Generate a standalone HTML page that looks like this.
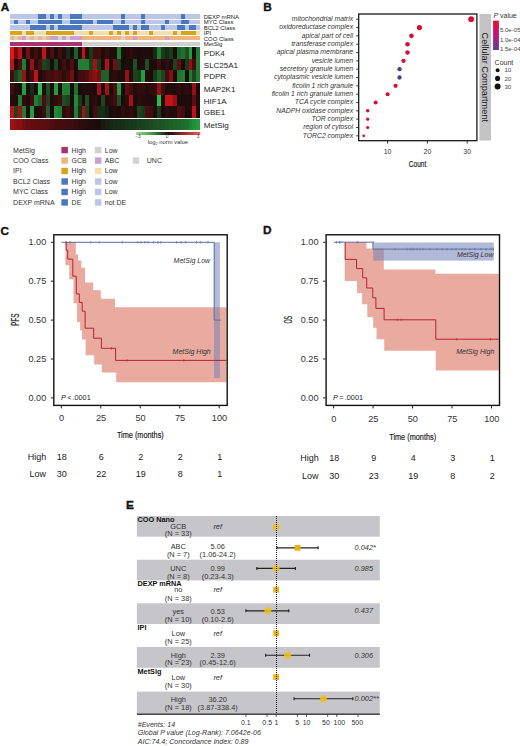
<!DOCTYPE html>
<html><head><meta charset="utf-8"><title>Figure</title><style>html,body{margin:0;padding:0;background:#fff;}body{width:520px;height:746px;overflow:hidden;}svg{display:block;font-family:"Liberation Sans",sans-serif;}</style></head><body>
<svg width="520" height="746" viewBox="0 0 520 746">
<rect width="520" height="746" fill="#fff"/>
<text x="0.8" y="11.1" font-size="11.8" font-weight="bold" fill="#111" stroke="#111" stroke-width="0.35">A</text>
<text x="263.3" y="11.1" font-size="11.8" font-weight="bold" fill="#111" stroke="#111" stroke-width="0.35">B</text>
<text x="0.6" y="234.6" font-size="11.8" font-weight="bold" fill="#111" stroke="#111" stroke-width="0.35">C</text>
<text x="263.1" y="234.3" font-size="11.8" font-weight="bold" fill="#111" stroke="#111" stroke-width="0.35">D</text>
<text x="126" y="508.8" font-size="11.8" font-weight="bold" fill="#111" stroke="#111" stroke-width="0.35">E</text>
<g shape-rendering="crispEdges">
<rect x="10.2" y="14.4" width="4.01" height="4.1" fill="#bcc6e6"/>
<rect x="14.16" y="14.4" width="4.01" height="4.1" fill="#bcc6e6"/>
<rect x="18.12" y="14.4" width="4.01" height="4.1" fill="#bcc6e6"/>
<rect x="22.09" y="14.4" width="4.01" height="4.1" fill="#bcc6e6"/>
<rect x="26.05" y="14.4" width="4.01" height="4.1" fill="#bcc6e6"/>
<rect x="30.01" y="14.4" width="4.01" height="4.1" fill="#bcc6e6"/>
<rect x="33.98" y="14.4" width="4.01" height="4.1" fill="#bcc6e6"/>
<rect x="37.94" y="14.4" width="4.01" height="4.1" fill="#4a78c0"/>
<rect x="41.9" y="14.4" width="4.01" height="4.1" fill="#4a78c0"/>
<rect x="45.86" y="14.4" width="4.01" height="4.1" fill="#bcc6e6"/>
<rect x="49.83" y="14.4" width="4.01" height="4.1" fill="#4a78c0"/>
<rect x="53.79" y="14.4" width="4.01" height="4.1" fill="#bcc6e6"/>
<rect x="57.75" y="14.4" width="4.01" height="4.1" fill="#4a78c0"/>
<rect x="61.71" y="14.4" width="4.01" height="4.1" fill="#bcc6e6"/>
<rect x="65.68" y="14.4" width="4.01" height="4.1" fill="#bcc6e6"/>
<rect x="69.64" y="14.4" width="4.01" height="4.1" fill="#4a78c0"/>
<rect x="73.6" y="14.4" width="4.01" height="4.1" fill="#4a78c0"/>
<rect x="77.56" y="14.4" width="4.01" height="4.1" fill="#4a78c0"/>
<rect x="81.53" y="14.4" width="4.01" height="4.1" fill="#bcc6e6"/>
<rect x="85.49" y="14.4" width="4.01" height="4.1" fill="#bcc6e6"/>
<rect x="89.45" y="14.4" width="4.01" height="4.1" fill="#bcc6e6"/>
<rect x="93.41" y="14.4" width="4.01" height="4.1" fill="#bcc6e6"/>
<rect x="97.38" y="14.4" width="4.01" height="4.1" fill="#bcc6e6"/>
<rect x="101.34" y="14.4" width="4.01" height="4.1" fill="#bcc6e6"/>
<rect x="105.3" y="14.4" width="4.01" height="4.1" fill="#bcc6e6"/>
<rect x="109.26" y="14.4" width="4.01" height="4.1" fill="#bcc6e6"/>
<rect x="113.23" y="14.4" width="4.01" height="4.1" fill="#bcc6e6"/>
<rect x="117.19" y="14.4" width="4.01" height="4.1" fill="#bcc6e6"/>
<rect x="121.15" y="14.4" width="4.01" height="4.1" fill="#4a78c0"/>
<rect x="125.11" y="14.4" width="4.01" height="4.1" fill="#bcc6e6"/>
<rect x="129.08" y="14.4" width="4.01" height="4.1" fill="#bcc6e6"/>
<rect x="133.04" y="14.4" width="4.01" height="4.1" fill="#bcc6e6"/>
<rect x="137" y="14.4" width="4.01" height="4.1" fill="#bcc6e6"/>
<rect x="140.96" y="14.4" width="4.01" height="4.1" fill="#4a78c0"/>
<rect x="144.93" y="14.4" width="4.01" height="4.1" fill="#bcc6e6"/>
<rect x="148.89" y="14.4" width="4.01" height="4.1" fill="#bcc6e6"/>
<rect x="152.85" y="14.4" width="4.01" height="4.1" fill="#bcc6e6"/>
<rect x="156.81" y="14.4" width="4.01" height="4.1" fill="#bcc6e6"/>
<rect x="160.78" y="14.4" width="4.01" height="4.1" fill="#bcc6e6"/>
<rect x="164.74" y="14.4" width="4.01" height="4.1" fill="#bcc6e6"/>
<rect x="168.7" y="14.4" width="4.01" height="4.1" fill="#bcc6e6"/>
<rect x="172.66" y="14.4" width="4.01" height="4.1" fill="#bcc6e6"/>
<rect x="176.62" y="14.4" width="4.01" height="4.1" fill="#bcc6e6"/>
<rect x="180.59" y="14.4" width="4.01" height="4.1" fill="#4a78c0"/>
<rect x="184.55" y="14.4" width="4.01" height="4.1" fill="#bcc6e6"/>
<rect x="188.51" y="14.4" width="4.01" height="4.1" fill="#bcc6e6"/>
<rect x="192.47" y="14.4" width="4.01" height="4.1" fill="#bcc6e6"/>
<rect x="196.44" y="14.4" width="4.01" height="4.1" fill="#bcc6e6"/>
<rect x="10.2" y="19.9" width="4.01" height="4.1" fill="#bcc6e6"/>
<rect x="14.16" y="19.9" width="4.01" height="4.1" fill="#4a78c0"/>
<rect x="18.12" y="19.9" width="4.01" height="4.1" fill="#bcc6e6"/>
<rect x="22.09" y="19.9" width="4.01" height="4.1" fill="#bcc6e6"/>
<rect x="26.05" y="19.9" width="4.01" height="4.1" fill="#4a78c0"/>
<rect x="30.01" y="19.9" width="4.01" height="4.1" fill="#bcc6e6"/>
<rect x="33.98" y="19.9" width="4.01" height="4.1" fill="#bcc6e6"/>
<rect x="37.94" y="19.9" width="4.01" height="4.1" fill="#4a78c0"/>
<rect x="41.9" y="19.9" width="4.01" height="4.1" fill="#4a78c0"/>
<rect x="45.86" y="19.9" width="4.01" height="4.1" fill="#4a78c0"/>
<rect x="49.83" y="19.9" width="4.01" height="4.1" fill="#4a78c0"/>
<rect x="53.79" y="19.9" width="4.01" height="4.1" fill="#4a78c0"/>
<rect x="57.75" y="19.9" width="4.01" height="4.1" fill="#4a78c0"/>
<rect x="61.71" y="19.9" width="4.01" height="4.1" fill="#bcc6e6"/>
<rect x="65.68" y="19.9" width="4.01" height="4.1" fill="#bcc6e6"/>
<rect x="69.64" y="19.9" width="4.01" height="4.1" fill="#4a78c0"/>
<rect x="73.6" y="19.9" width="4.01" height="4.1" fill="#4a78c0"/>
<rect x="77.56" y="19.9" width="4.01" height="4.1" fill="#4a78c0"/>
<rect x="81.53" y="19.9" width="4.01" height="4.1" fill="#4a78c0"/>
<rect x="85.49" y="19.9" width="4.01" height="4.1" fill="#4a78c0"/>
<rect x="89.45" y="19.9" width="4.01" height="4.1" fill="#4a78c0"/>
<rect x="93.41" y="19.9" width="4.01" height="4.1" fill="#bcc6e6"/>
<rect x="97.38" y="19.9" width="4.01" height="4.1" fill="#4a78c0"/>
<rect x="101.34" y="19.9" width="4.01" height="4.1" fill="#4a78c0"/>
<rect x="105.3" y="19.9" width="4.01" height="4.1" fill="#4a78c0"/>
<rect x="109.26" y="19.9" width="4.01" height="4.1" fill="#4a78c0"/>
<rect x="113.23" y="19.9" width="4.01" height="4.1" fill="#bcc6e6"/>
<rect x="117.19" y="19.9" width="4.01" height="4.1" fill="#bcc6e6"/>
<rect x="121.15" y="19.9" width="4.01" height="4.1" fill="#4a78c0"/>
<rect x="125.11" y="19.9" width="4.01" height="4.1" fill="#bcc6e6"/>
<rect x="129.08" y="19.9" width="4.01" height="4.1" fill="#bcc6e6"/>
<rect x="133.04" y="19.9" width="4.01" height="4.1" fill="#bcc6e6"/>
<rect x="137" y="19.9" width="4.01" height="4.1" fill="#bcc6e6"/>
<rect x="140.96" y="19.9" width="4.01" height="4.1" fill="#4a78c0"/>
<rect x="144.93" y="19.9" width="4.01" height="4.1" fill="#bcc6e6"/>
<rect x="148.89" y="19.9" width="4.01" height="4.1" fill="#bcc6e6"/>
<rect x="152.85" y="19.9" width="4.01" height="4.1" fill="#bcc6e6"/>
<rect x="156.81" y="19.9" width="4.01" height="4.1" fill="#bcc6e6"/>
<rect x="160.78" y="19.9" width="4.01" height="4.1" fill="#bcc6e6"/>
<rect x="164.74" y="19.9" width="4.01" height="4.1" fill="#4a78c0"/>
<rect x="168.7" y="19.9" width="4.01" height="4.1" fill="#bcc6e6"/>
<rect x="172.66" y="19.9" width="4.01" height="4.1" fill="#bcc6e6"/>
<rect x="176.62" y="19.9" width="4.01" height="4.1" fill="#bcc6e6"/>
<rect x="180.59" y="19.9" width="4.01" height="4.1" fill="#4a78c0"/>
<rect x="184.55" y="19.9" width="4.01" height="4.1" fill="#4a78c0"/>
<rect x="188.51" y="19.9" width="4.01" height="4.1" fill="#bcc6e6"/>
<rect x="192.47" y="19.9" width="4.01" height="4.1" fill="#bcc6e6"/>
<rect x="196.44" y="19.9" width="4.01" height="4.1" fill="#bcc6e6"/>
<rect x="10.2" y="25.4" width="4.01" height="4.1" fill="#bcc6e6"/>
<rect x="14.16" y="25.4" width="4.01" height="4.1" fill="#bcc6e6"/>
<rect x="18.12" y="25.4" width="4.01" height="4.1" fill="#bcc6e6"/>
<rect x="22.09" y="25.4" width="4.01" height="4.1" fill="#bcc6e6"/>
<rect x="26.05" y="25.4" width="4.01" height="4.1" fill="#bcc6e6"/>
<rect x="30.01" y="25.4" width="4.01" height="4.1" fill="#4a78c0"/>
<rect x="33.98" y="25.4" width="4.01" height="4.1" fill="#4a78c0"/>
<rect x="37.94" y="25.4" width="4.01" height="4.1" fill="#4a78c0"/>
<rect x="41.9" y="25.4" width="4.01" height="4.1" fill="#4a78c0"/>
<rect x="45.86" y="25.4" width="4.01" height="4.1" fill="#bcc6e6"/>
<rect x="49.83" y="25.4" width="4.01" height="4.1" fill="#4a78c0"/>
<rect x="53.79" y="25.4" width="4.01" height="4.1" fill="#bcc6e6"/>
<rect x="57.75" y="25.4" width="4.01" height="4.1" fill="#4a78c0"/>
<rect x="61.71" y="25.4" width="4.01" height="4.1" fill="#4a78c0"/>
<rect x="65.68" y="25.4" width="4.01" height="4.1" fill="#4a78c0"/>
<rect x="69.64" y="25.4" width="4.01" height="4.1" fill="#4a78c0"/>
<rect x="73.6" y="25.4" width="4.01" height="4.1" fill="#4a78c0"/>
<rect x="77.56" y="25.4" width="4.01" height="4.1" fill="#4a78c0"/>
<rect x="81.53" y="25.4" width="4.01" height="4.1" fill="#bcc6e6"/>
<rect x="85.49" y="25.4" width="4.01" height="4.1" fill="#bcc6e6"/>
<rect x="89.45" y="25.4" width="4.01" height="4.1" fill="#bcc6e6"/>
<rect x="93.41" y="25.4" width="4.01" height="4.1" fill="#bcc6e6"/>
<rect x="97.38" y="25.4" width="4.01" height="4.1" fill="#bcc6e6"/>
<rect x="101.34" y="25.4" width="4.01" height="4.1" fill="#bcc6e6"/>
<rect x="105.3" y="25.4" width="4.01" height="4.1" fill="#bcc6e6"/>
<rect x="109.26" y="25.4" width="4.01" height="4.1" fill="#bcc6e6"/>
<rect x="113.23" y="25.4" width="4.01" height="4.1" fill="#4a78c0"/>
<rect x="117.19" y="25.4" width="4.01" height="4.1" fill="#4a78c0"/>
<rect x="121.15" y="25.4" width="4.01" height="4.1" fill="#4a78c0"/>
<rect x="125.11" y="25.4" width="4.01" height="4.1" fill="#4a78c0"/>
<rect x="129.08" y="25.4" width="4.01" height="4.1" fill="#bcc6e6"/>
<rect x="133.04" y="25.4" width="4.01" height="4.1" fill="#4a78c0"/>
<rect x="137" y="25.4" width="4.01" height="4.1" fill="#bcc6e6"/>
<rect x="140.96" y="25.4" width="4.01" height="4.1" fill="#4a78c0"/>
<rect x="144.93" y="25.4" width="4.01" height="4.1" fill="#4a78c0"/>
<rect x="148.89" y="25.4" width="4.01" height="4.1" fill="#bcc6e6"/>
<rect x="152.85" y="25.4" width="4.01" height="4.1" fill="#bcc6e6"/>
<rect x="156.81" y="25.4" width="4.01" height="4.1" fill="#bcc6e6"/>
<rect x="160.78" y="25.4" width="4.01" height="4.1" fill="#4a78c0"/>
<rect x="164.74" y="25.4" width="4.01" height="4.1" fill="#bcc6e6"/>
<rect x="168.7" y="25.4" width="4.01" height="4.1" fill="#bcc6e6"/>
<rect x="172.66" y="25.4" width="4.01" height="4.1" fill="#bcc6e6"/>
<rect x="176.62" y="25.4" width="4.01" height="4.1" fill="#4a78c0"/>
<rect x="180.59" y="25.4" width="4.01" height="4.1" fill="#4a78c0"/>
<rect x="184.55" y="25.4" width="4.01" height="4.1" fill="#bcc6e6"/>
<rect x="188.51" y="25.4" width="4.01" height="4.1" fill="#4a78c0"/>
<rect x="192.47" y="25.4" width="4.01" height="4.1" fill="#4a78c0"/>
<rect x="196.44" y="25.4" width="4.01" height="4.1" fill="#bcc6e6"/>
<rect x="10.2" y="30.9" width="4.01" height="4" fill="#d9a418"/>
<rect x="14.16" y="30.9" width="4.01" height="4" fill="#d9a418"/>
<rect x="18.12" y="30.9" width="4.01" height="4" fill="#d9a418"/>
<rect x="22.09" y="30.9" width="4.01" height="4" fill="#f6dfae"/>
<rect x="26.05" y="30.9" width="4.01" height="4" fill="#d9a418"/>
<rect x="30.01" y="30.9" width="4.01" height="4" fill="#d9a418"/>
<rect x="33.98" y="30.9" width="4.01" height="4" fill="#f6dfae"/>
<rect x="37.94" y="30.9" width="4.01" height="4" fill="#f6dfae"/>
<rect x="41.9" y="30.9" width="4.01" height="4" fill="#f6dfae"/>
<rect x="45.86" y="30.9" width="4.01" height="4" fill="#d9a418"/>
<rect x="49.83" y="30.9" width="4.01" height="4" fill="#d9a418"/>
<rect x="53.79" y="30.9" width="4.01" height="4" fill="#d9a418"/>
<rect x="57.75" y="30.9" width="4.01" height="4" fill="#d9a418"/>
<rect x="61.71" y="30.9" width="4.01" height="4" fill="#d9a418"/>
<rect x="65.68" y="30.9" width="4.01" height="4" fill="#d9a418"/>
<rect x="69.64" y="30.9" width="4.01" height="4" fill="#d9a418"/>
<rect x="73.6" y="30.9" width="4.01" height="4" fill="#f6dfae"/>
<rect x="77.56" y="30.9" width="4.01" height="4" fill="#f6dfae"/>
<rect x="81.53" y="30.9" width="4.01" height="4" fill="#f6dfae"/>
<rect x="85.49" y="30.9" width="4.01" height="4" fill="#f6dfae"/>
<rect x="89.45" y="30.9" width="4.01" height="4" fill="#d9a418"/>
<rect x="93.41" y="30.9" width="4.01" height="4" fill="#f6dfae"/>
<rect x="97.38" y="30.9" width="4.01" height="4" fill="#f6dfae"/>
<rect x="101.34" y="30.9" width="4.01" height="4" fill="#f6dfae"/>
<rect x="105.3" y="30.9" width="4.01" height="4" fill="#f6dfae"/>
<rect x="109.26" y="30.9" width="4.01" height="4" fill="#d9a418"/>
<rect x="113.23" y="30.9" width="4.01" height="4" fill="#f6dfae"/>
<rect x="117.19" y="30.9" width="4.01" height="4" fill="#d9a418"/>
<rect x="121.15" y="30.9" width="4.01" height="4" fill="#f6dfae"/>
<rect x="125.11" y="30.9" width="4.01" height="4" fill="#d9a418"/>
<rect x="129.08" y="30.9" width="4.01" height="4" fill="#f6dfae"/>
<rect x="133.04" y="30.9" width="4.01" height="4" fill="#d9a418"/>
<rect x="137" y="30.9" width="4.01" height="4" fill="#f6dfae"/>
<rect x="140.96" y="30.9" width="4.01" height="4" fill="#f6dfae"/>
<rect x="144.93" y="30.9" width="4.01" height="4" fill="#f6dfae"/>
<rect x="148.89" y="30.9" width="4.01" height="4" fill="#d9a418"/>
<rect x="152.85" y="30.9" width="4.01" height="4" fill="#f6dfae"/>
<rect x="156.81" y="30.9" width="4.01" height="4" fill="#f6dfae"/>
<rect x="160.78" y="30.9" width="4.01" height="4" fill="#f6dfae"/>
<rect x="164.74" y="30.9" width="4.01" height="4" fill="#f6dfae"/>
<rect x="168.7" y="30.9" width="4.01" height="4" fill="#f6dfae"/>
<rect x="172.66" y="30.9" width="4.01" height="4" fill="#d9a418"/>
<rect x="176.62" y="30.9" width="4.01" height="4" fill="#f6dfae"/>
<rect x="180.59" y="30.9" width="4.01" height="4" fill="#d9a418"/>
<rect x="184.55" y="30.9" width="4.01" height="4" fill="#d9a418"/>
<rect x="188.51" y="30.9" width="4.01" height="4" fill="#d9a418"/>
<rect x="192.47" y="30.9" width="4.01" height="4" fill="#d9a418"/>
<rect x="196.44" y="30.9" width="4.01" height="4" fill="#f6dfae"/>
<rect x="10.2" y="36.2" width="4.01" height="3.9" fill="#f2b47e"/>
<rect x="14.16" y="36.2" width="4.01" height="3.9" fill="#d2d2d2"/>
<rect x="18.12" y="36.2" width="4.01" height="3.9" fill="#f2b47e"/>
<rect x="22.09" y="36.2" width="4.01" height="3.9" fill="#c8a0d4"/>
<rect x="26.05" y="36.2" width="4.01" height="3.9" fill="#d2d2d2"/>
<rect x="30.01" y="36.2" width="4.01" height="3.9" fill="#f2b47e"/>
<rect x="33.98" y="36.2" width="4.01" height="3.9" fill="#d2d2d2"/>
<rect x="37.94" y="36.2" width="4.01" height="3.9" fill="#f2b47e"/>
<rect x="41.9" y="36.2" width="4.01" height="3.9" fill="#d2d2d2"/>
<rect x="45.86" y="36.2" width="4.01" height="3.9" fill="#f2b47e"/>
<rect x="49.83" y="36.2" width="4.01" height="3.9" fill="#c8a0d4"/>
<rect x="53.79" y="36.2" width="4.01" height="3.9" fill="#c8a0d4"/>
<rect x="57.75" y="36.2" width="4.01" height="3.9" fill="#d2d2d2"/>
<rect x="61.71" y="36.2" width="4.01" height="3.9" fill="#c8a0d4"/>
<rect x="65.68" y="36.2" width="4.01" height="3.9" fill="#d2d2d2"/>
<rect x="69.64" y="36.2" width="4.01" height="3.9" fill="#c8a0d4"/>
<rect x="73.6" y="36.2" width="4.01" height="3.9" fill="#c8a0d4"/>
<rect x="77.56" y="36.2" width="4.01" height="3.9" fill="#c8a0d4"/>
<rect x="81.53" y="36.2" width="4.01" height="3.9" fill="#f2b47e"/>
<rect x="85.49" y="36.2" width="4.01" height="3.9" fill="#f2b47e"/>
<rect x="89.45" y="36.2" width="4.01" height="3.9" fill="#f2b47e"/>
<rect x="93.41" y="36.2" width="4.01" height="3.9" fill="#f2b47e"/>
<rect x="97.38" y="36.2" width="4.01" height="3.9" fill="#f2b47e"/>
<rect x="101.34" y="36.2" width="4.01" height="3.9" fill="#f2b47e"/>
<rect x="105.3" y="36.2" width="4.01" height="3.9" fill="#f2b47e"/>
<rect x="109.26" y="36.2" width="4.01" height="3.9" fill="#f2b47e"/>
<rect x="113.23" y="36.2" width="4.01" height="3.9" fill="#f2b47e"/>
<rect x="117.19" y="36.2" width="4.01" height="3.9" fill="#f2b47e"/>
<rect x="121.15" y="36.2" width="4.01" height="3.9" fill="#d2d2d2"/>
<rect x="125.11" y="36.2" width="4.01" height="3.9" fill="#f2b47e"/>
<rect x="129.08" y="36.2" width="4.01" height="3.9" fill="#f2b47e"/>
<rect x="133.04" y="36.2" width="4.01" height="3.9" fill="#c8a0d4"/>
<rect x="137" y="36.2" width="4.01" height="3.9" fill="#f2b47e"/>
<rect x="140.96" y="36.2" width="4.01" height="3.9" fill="#f2b47e"/>
<rect x="144.93" y="36.2" width="4.01" height="3.9" fill="#f2b47e"/>
<rect x="148.89" y="36.2" width="4.01" height="3.9" fill="#f2b47e"/>
<rect x="152.85" y="36.2" width="4.01" height="3.9" fill="#f2b47e"/>
<rect x="156.81" y="36.2" width="4.01" height="3.9" fill="#f2b47e"/>
<rect x="160.78" y="36.2" width="4.01" height="3.9" fill="#f2b47e"/>
<rect x="164.74" y="36.2" width="4.01" height="3.9" fill="#c8a0d4"/>
<rect x="168.7" y="36.2" width="4.01" height="3.9" fill="#f2b47e"/>
<rect x="172.66" y="36.2" width="4.01" height="3.9" fill="#f2b47e"/>
<rect x="176.62" y="36.2" width="4.01" height="3.9" fill="#f2b47e"/>
<rect x="180.59" y="36.2" width="4.01" height="3.9" fill="#f2b47e"/>
<rect x="184.55" y="36.2" width="4.01" height="3.9" fill="#f2b47e"/>
<rect x="188.51" y="36.2" width="4.01" height="3.9" fill="#f2b47e"/>
<rect x="192.47" y="36.2" width="4.01" height="3.9" fill="#f2b47e"/>
<rect x="196.44" y="36.2" width="4.01" height="3.9" fill="#f2b47e"/>
<rect x="10.2" y="41.7" width="4.01" height="3.9" fill="#a8336f"/>
<rect x="14.16" y="41.7" width="4.01" height="3.9" fill="#a8336f"/>
<rect x="18.12" y="41.7" width="4.01" height="3.9" fill="#a8336f"/>
<rect x="22.09" y="41.7" width="4.01" height="3.9" fill="#a8336f"/>
<rect x="26.05" y="41.7" width="4.01" height="3.9" fill="#a8336f"/>
<rect x="30.01" y="41.7" width="4.01" height="3.9" fill="#a8336f"/>
<rect x="33.98" y="41.7" width="4.01" height="3.9" fill="#a8336f"/>
<rect x="37.94" y="41.7" width="4.01" height="3.9" fill="#a8336f"/>
<rect x="41.9" y="41.7" width="4.01" height="3.9" fill="#a8336f"/>
<rect x="45.86" y="41.7" width="4.01" height="3.9" fill="#a8336f"/>
<rect x="49.83" y="41.7" width="4.01" height="3.9" fill="#a8336f"/>
<rect x="53.79" y="41.7" width="4.01" height="3.9" fill="#a8336f"/>
<rect x="57.75" y="41.7" width="4.01" height="3.9" fill="#a8336f"/>
<rect x="61.71" y="41.7" width="4.01" height="3.9" fill="#a8336f"/>
<rect x="65.68" y="41.7" width="4.01" height="3.9" fill="#a8336f"/>
<rect x="69.64" y="41.7" width="4.01" height="3.9" fill="#a8336f"/>
<rect x="73.6" y="41.7" width="4.01" height="3.9" fill="#a8336f"/>
<rect x="77.56" y="41.7" width="4.01" height="3.9" fill="#a8336f"/>
<rect x="81.53" y="41.7" width="4.01" height="3.9" fill="#d0d0d0"/>
<rect x="85.49" y="41.7" width="4.01" height="3.9" fill="#d0d0d0"/>
<rect x="89.45" y="41.7" width="4.01" height="3.9" fill="#d0d0d0"/>
<rect x="93.41" y="41.7" width="4.01" height="3.9" fill="#d0d0d0"/>
<rect x="97.38" y="41.7" width="4.01" height="3.9" fill="#d0d0d0"/>
<rect x="101.34" y="41.7" width="4.01" height="3.9" fill="#d0d0d0"/>
<rect x="105.3" y="41.7" width="4.01" height="3.9" fill="#d0d0d0"/>
<rect x="109.26" y="41.7" width="4.01" height="3.9" fill="#d0d0d0"/>
<rect x="113.23" y="41.7" width="4.01" height="3.9" fill="#d0d0d0"/>
<rect x="117.19" y="41.7" width="4.01" height="3.9" fill="#d0d0d0"/>
<rect x="121.15" y="41.7" width="4.01" height="3.9" fill="#d0d0d0"/>
<rect x="125.11" y="41.7" width="4.01" height="3.9" fill="#d0d0d0"/>
<rect x="129.08" y="41.7" width="4.01" height="3.9" fill="#d0d0d0"/>
<rect x="133.04" y="41.7" width="4.01" height="3.9" fill="#d0d0d0"/>
<rect x="137" y="41.7" width="4.01" height="3.9" fill="#d0d0d0"/>
<rect x="140.96" y="41.7" width="4.01" height="3.9" fill="#d0d0d0"/>
<rect x="144.93" y="41.7" width="4.01" height="3.9" fill="#d0d0d0"/>
<rect x="148.89" y="41.7" width="4.01" height="3.9" fill="#d0d0d0"/>
<rect x="152.85" y="41.7" width="4.01" height="3.9" fill="#d0d0d0"/>
<rect x="156.81" y="41.7" width="4.01" height="3.9" fill="#d0d0d0"/>
<rect x="160.78" y="41.7" width="4.01" height="3.9" fill="#d0d0d0"/>
<rect x="164.74" y="41.7" width="4.01" height="3.9" fill="#d0d0d0"/>
<rect x="168.7" y="41.7" width="4.01" height="3.9" fill="#d0d0d0"/>
<rect x="172.66" y="41.7" width="4.01" height="3.9" fill="#d0d0d0"/>
<rect x="176.62" y="41.7" width="4.01" height="3.9" fill="#d0d0d0"/>
<rect x="180.59" y="41.7" width="4.01" height="3.9" fill="#d0d0d0"/>
<rect x="184.55" y="41.7" width="4.01" height="3.9" fill="#d0d0d0"/>
<rect x="188.51" y="41.7" width="4.01" height="3.9" fill="#d0d0d0"/>
<rect x="192.47" y="41.7" width="4.01" height="3.9" fill="#d0d0d0"/>
<rect x="196.44" y="41.7" width="4.01" height="3.9" fill="#d0d0d0"/>
<rect x="10.2" y="47.3" width="4.01" height="11.6" fill="#eb141a"/>
<rect x="14.16" y="47.3" width="4.01" height="11.6" fill="#710f11"/>
<rect x="18.12" y="47.3" width="4.01" height="11.6" fill="#c01217"/>
<rect x="22.09" y="47.3" width="4.01" height="11.6" fill="#1a0c0c"/>
<rect x="26.05" y="47.3" width="4.01" height="11.6" fill="#710f11"/>
<rect x="30.01" y="47.3" width="4.01" height="11.6" fill="#250c0c"/>
<rect x="33.98" y="47.3" width="4.01" height="11.6" fill="#420d0e"/>
<rect x="37.94" y="47.3" width="4.01" height="11.6" fill="#250c0c"/>
<rect x="41.9" y="47.3" width="4.01" height="11.6" fill="#c01217"/>
<rect x="45.86" y="47.3" width="4.01" height="11.6" fill="#250c0c"/>
<rect x="49.83" y="47.3" width="4.01" height="11.6" fill="#4e0e0f"/>
<rect x="53.79" y="47.3" width="4.01" height="11.6" fill="#1a0c0c"/>
<rect x="57.75" y="47.3" width="4.01" height="11.6" fill="#420d0e"/>
<rect x="61.71" y="47.3" width="4.01" height="11.6" fill="#250c0c"/>
<rect x="65.68" y="47.3" width="4.01" height="11.6" fill="#182b17"/>
<rect x="69.64" y="47.3" width="4.01" height="11.6" fill="#1a0c0c"/>
<rect x="73.6" y="47.3" width="4.01" height="11.6" fill="#1e6029"/>
<rect x="77.56" y="47.3" width="4.01" height="11.6" fill="#1a0c0c"/>
<rect x="81.53" y="47.3" width="4.01" height="11.6" fill="#c01217"/>
<rect x="85.49" y="47.3" width="4.01" height="11.6" fill="#250c0c"/>
<rect x="89.45" y="47.3" width="4.01" height="11.6" fill="#193a1c"/>
<rect x="93.41" y="47.3" width="4.01" height="11.6" fill="#420d0e"/>
<rect x="97.38" y="47.3" width="4.01" height="11.6" fill="#420d0e"/>
<rect x="101.34" y="47.3" width="4.01" height="11.6" fill="#210c0c"/>
<rect x="105.3" y="47.3" width="4.01" height="11.6" fill="#350d0d"/>
<rect x="109.26" y="47.3" width="4.01" height="11.6" fill="#210c0c"/>
<rect x="113.23" y="47.3" width="4.01" height="11.6" fill="#210c0c"/>
<rect x="117.19" y="47.3" width="4.01" height="11.6" fill="#217d33"/>
<rect x="121.15" y="47.3" width="4.01" height="11.6" fill="#1a0c0c"/>
<rect x="125.11" y="47.3" width="4.01" height="11.6" fill="#210c0c"/>
<rect x="129.08" y="47.3" width="4.01" height="11.6" fill="#300c0d"/>
<rect x="133.04" y="47.3" width="4.01" height="11.6" fill="#250c0c"/>
<rect x="137" y="47.3" width="4.01" height="11.6" fill="#1a0c0c"/>
<rect x="140.96" y="47.3" width="4.01" height="11.6" fill="#210c0c"/>
<rect x="144.93" y="47.3" width="4.01" height="11.6" fill="#210c0c"/>
<rect x="148.89" y="47.3" width="4.01" height="11.6" fill="#1a0c0c"/>
<rect x="152.85" y="47.3" width="4.01" height="11.6" fill="#182b17"/>
<rect x="156.81" y="47.3" width="4.01" height="11.6" fill="#217d33"/>
<rect x="160.78" y="47.3" width="4.01" height="11.6" fill="#193a1c"/>
<rect x="164.74" y="47.3" width="4.01" height="11.6" fill="#182b17"/>
<rect x="168.7" y="47.3" width="4.01" height="11.6" fill="#193a1c"/>
<rect x="172.66" y="47.3" width="4.01" height="11.6" fill="#1a0c0c"/>
<rect x="176.62" y="47.3" width="4.01" height="11.6" fill="#1e6029"/>
<rect x="180.59" y="47.3" width="4.01" height="11.6" fill="#20712f"/>
<rect x="184.55" y="47.3" width="4.01" height="11.6" fill="#1c4f23"/>
<rect x="188.51" y="47.3" width="4.01" height="11.6" fill="#249b3d"/>
<rect x="192.47" y="47.3" width="4.01" height="11.6" fill="#1a0c0c"/>
<rect x="196.44" y="47.3" width="4.01" height="11.6" fill="#217d33"/>
<rect x="10.2" y="58.9" width="4.01" height="11.5" fill="#c01217"/>
<rect x="14.16" y="58.9" width="4.01" height="11.5" fill="#1a0c0c"/>
<rect x="18.12" y="58.9" width="4.01" height="11.5" fill="#4e0e0f"/>
<rect x="22.09" y="58.9" width="4.01" height="11.5" fill="#217d33"/>
<rect x="26.05" y="58.9" width="4.01" height="11.5" fill="#1a0c0c"/>
<rect x="30.01" y="58.9" width="4.01" height="11.5" fill="#971014"/>
<rect x="33.98" y="58.9" width="4.01" height="11.5" fill="#250c0c"/>
<rect x="37.94" y="58.9" width="4.01" height="11.5" fill="#4e0e0f"/>
<rect x="41.9" y="58.9" width="4.01" height="11.5" fill="#1b441f"/>
<rect x="45.86" y="58.9" width="4.01" height="11.5" fill="#193a1c"/>
<rect x="49.83" y="58.9" width="4.01" height="11.5" fill="#1a0c0c"/>
<rect x="53.79" y="58.9" width="4.01" height="11.5" fill="#1b4a21"/>
<rect x="57.75" y="58.9" width="4.01" height="11.5" fill="#210c0c"/>
<rect x="61.71" y="58.9" width="4.01" height="11.5" fill="#420d0e"/>
<rect x="65.68" y="58.9" width="4.01" height="11.5" fill="#250c0c"/>
<rect x="69.64" y="58.9" width="4.01" height="11.5" fill="#4e0e0f"/>
<rect x="73.6" y="58.9" width="4.01" height="11.5" fill="#1a0c0c"/>
<rect x="77.56" y="58.9" width="4.01" height="11.5" fill="#217d33"/>
<rect x="81.53" y="58.9" width="4.01" height="11.5" fill="#217d33"/>
<rect x="85.49" y="58.9" width="4.01" height="11.5" fill="#217d33"/>
<rect x="89.45" y="58.9" width="4.01" height="11.5" fill="#1b441f"/>
<rect x="93.41" y="58.9" width="4.01" height="11.5" fill="#a71115"/>
<rect x="97.38" y="58.9" width="4.01" height="11.5" fill="#193a1c"/>
<rect x="101.34" y="58.9" width="4.01" height="11.5" fill="#1a0c0c"/>
<rect x="105.3" y="58.9" width="4.01" height="11.5" fill="#b81216"/>
<rect x="109.26" y="58.9" width="4.01" height="11.5" fill="#1a0c0c"/>
<rect x="113.23" y="58.9" width="4.01" height="11.5" fill="#710f11"/>
<rect x="117.19" y="58.9" width="4.01" height="11.5" fill="#193a1c"/>
<rect x="121.15" y="58.9" width="4.01" height="11.5" fill="#1a0c0c"/>
<rect x="125.11" y="58.9" width="4.01" height="11.5" fill="#210c0c"/>
<rect x="129.08" y="58.9" width="4.01" height="11.5" fill="#1a0c0c"/>
<rect x="133.04" y="58.9" width="4.01" height="11.5" fill="#1c4f23"/>
<rect x="137" y="58.9" width="4.01" height="11.5" fill="#1a0c0c"/>
<rect x="140.96" y="58.9" width="4.01" height="11.5" fill="#210c0c"/>
<rect x="144.93" y="58.9" width="4.01" height="11.5" fill="#1c4f23"/>
<rect x="148.89" y="58.9" width="4.01" height="11.5" fill="#1e0c0c"/>
<rect x="152.85" y="58.9" width="4.01" height="11.5" fill="#1c0c0c"/>
<rect x="156.81" y="58.9" width="4.01" height="11.5" fill="#420d0e"/>
<rect x="160.78" y="58.9" width="4.01" height="11.5" fill="#210c0c"/>
<rect x="164.74" y="58.9" width="4.01" height="11.5" fill="#300c0d"/>
<rect x="168.7" y="58.9" width="4.01" height="11.5" fill="#210c0c"/>
<rect x="172.66" y="58.9" width="4.01" height="11.5" fill="#1b441f"/>
<rect x="176.62" y="58.9" width="4.01" height="11.5" fill="#5c0e10"/>
<rect x="180.59" y="58.9" width="4.01" height="11.5" fill="#1a0c0c"/>
<rect x="184.55" y="58.9" width="4.01" height="11.5" fill="#193a1c"/>
<rect x="188.51" y="58.9" width="4.01" height="11.5" fill="#971014"/>
<rect x="192.47" y="58.9" width="4.01" height="11.5" fill="#420d0e"/>
<rect x="196.44" y="58.9" width="4.01" height="11.5" fill="#217d33"/>
<rect x="10.2" y="70.4" width="4.01" height="11.6" fill="#420d0e"/>
<rect x="14.16" y="70.4" width="4.01" height="11.6" fill="#1b441f"/>
<rect x="18.12" y="70.4" width="4.01" height="11.6" fill="#1e6029"/>
<rect x="22.09" y="70.4" width="4.01" height="11.6" fill="#971014"/>
<rect x="26.05" y="70.4" width="4.01" height="11.6" fill="#250c0c"/>
<rect x="30.01" y="70.4" width="4.01" height="11.6" fill="#420d0e"/>
<rect x="33.98" y="70.4" width="4.01" height="11.6" fill="#c01217"/>
<rect x="37.94" y="70.4" width="4.01" height="11.6" fill="#1a0c0c"/>
<rect x="41.9" y="70.4" width="4.01" height="11.6" fill="#300c0d"/>
<rect x="45.86" y="70.4" width="4.01" height="11.6" fill="#420d0e"/>
<rect x="49.83" y="70.4" width="4.01" height="11.6" fill="#420d0e"/>
<rect x="53.79" y="70.4" width="4.01" height="11.6" fill="#550e0f"/>
<rect x="57.75" y="70.4" width="4.01" height="11.6" fill="#480d0f"/>
<rect x="61.71" y="70.4" width="4.01" height="11.6" fill="#300c0d"/>
<rect x="65.68" y="70.4" width="4.01" height="11.6" fill="#420d0e"/>
<rect x="69.64" y="70.4" width="4.01" height="11.6" fill="#710f11"/>
<rect x="73.6" y="70.4" width="4.01" height="11.6" fill="#1a0c0c"/>
<rect x="77.56" y="70.4" width="4.01" height="11.6" fill="#420d0e"/>
<rect x="81.53" y="70.4" width="4.01" height="11.6" fill="#420d0e"/>
<rect x="85.49" y="70.4" width="4.01" height="11.6" fill="#4e0e0f"/>
<rect x="89.45" y="70.4" width="4.01" height="11.6" fill="#710f11"/>
<rect x="93.41" y="70.4" width="4.01" height="11.6" fill="#881013"/>
<rect x="97.38" y="70.4" width="4.01" height="11.6" fill="#710f11"/>
<rect x="101.34" y="70.4" width="4.01" height="11.6" fill="#1e6029"/>
<rect x="105.3" y="70.4" width="4.01" height="11.6" fill="#1e6029"/>
<rect x="109.26" y="70.4" width="4.01" height="11.6" fill="#250c0c"/>
<rect x="113.23" y="70.4" width="4.01" height="11.6" fill="#300c0d"/>
<rect x="117.19" y="70.4" width="4.01" height="11.6" fill="#210c0c"/>
<rect x="121.15" y="70.4" width="4.01" height="11.6" fill="#1a0c0c"/>
<rect x="125.11" y="70.4" width="4.01" height="11.6" fill="#971014"/>
<rect x="129.08" y="70.4" width="4.01" height="11.6" fill="#250c0c"/>
<rect x="133.04" y="70.4" width="4.01" height="11.6" fill="#1b441f"/>
<rect x="137" y="70.4" width="4.01" height="11.6" fill="#193a1c"/>
<rect x="140.96" y="70.4" width="4.01" height="11.6" fill="#249b3d"/>
<rect x="144.93" y="70.4" width="4.01" height="11.6" fill="#210c0c"/>
<rect x="148.89" y="70.4" width="4.01" height="11.6" fill="#210c0c"/>
<rect x="152.85" y="70.4" width="4.01" height="11.6" fill="#193a1c"/>
<rect x="156.81" y="70.4" width="4.01" height="11.6" fill="#1e6029"/>
<rect x="160.78" y="70.4" width="4.01" height="11.6" fill="#1b441f"/>
<rect x="164.74" y="70.4" width="4.01" height="11.6" fill="#420d0e"/>
<rect x="168.7" y="70.4" width="4.01" height="11.6" fill="#881013"/>
<rect x="172.66" y="70.4" width="4.01" height="11.6" fill="#1a0c0c"/>
<rect x="176.62" y="70.4" width="4.01" height="11.6" fill="#20712f"/>
<rect x="180.59" y="70.4" width="4.01" height="11.6" fill="#217d33"/>
<rect x="184.55" y="70.4" width="4.01" height="11.6" fill="#1a0c0c"/>
<rect x="188.51" y="70.4" width="4.01" height="11.6" fill="#217d33"/>
<rect x="192.47" y="70.4" width="4.01" height="11.6" fill="#1b441f"/>
<rect x="196.44" y="70.4" width="4.01" height="11.6" fill="#217d33"/>
<rect x="10.2" y="83.3" width="4.01" height="11.6" fill="#420d0e"/>
<rect x="14.16" y="83.3" width="4.01" height="11.6" fill="#250c0c"/>
<rect x="18.12" y="83.3" width="4.01" height="11.6" fill="#1a0c0c"/>
<rect x="22.09" y="83.3" width="4.01" height="11.6" fill="#249b3d"/>
<rect x="26.05" y="83.3" width="4.01" height="11.6" fill="#1a0c0c"/>
<rect x="30.01" y="83.3" width="4.01" height="11.6" fill="#182b17"/>
<rect x="33.98" y="83.3" width="4.01" height="11.6" fill="#1a0c0c"/>
<rect x="37.94" y="83.3" width="4.01" height="11.6" fill="#28bb48"/>
<rect x="41.9" y="83.3" width="4.01" height="11.6" fill="#1a0c0c"/>
<rect x="45.86" y="83.3" width="4.01" height="11.6" fill="#1c4f23"/>
<rect x="49.83" y="83.3" width="4.01" height="11.6" fill="#1a0c0c"/>
<rect x="53.79" y="83.3" width="4.01" height="11.6" fill="#249b3d"/>
<rect x="57.75" y="83.3" width="4.01" height="11.6" fill="#1a0c0c"/>
<rect x="61.71" y="83.3" width="4.01" height="11.6" fill="#217d33"/>
<rect x="65.68" y="83.3" width="4.01" height="11.6" fill="#217d33"/>
<rect x="69.64" y="83.3" width="4.01" height="11.6" fill="#1a0c0c"/>
<rect x="73.6" y="83.3" width="4.01" height="11.6" fill="#20712f"/>
<rect x="77.56" y="83.3" width="4.01" height="11.6" fill="#1a0c0c"/>
<rect x="81.53" y="83.3" width="4.01" height="11.6" fill="#250c0c"/>
<rect x="85.49" y="83.3" width="4.01" height="11.6" fill="#250c0c"/>
<rect x="89.45" y="83.3" width="4.01" height="11.6" fill="#250c0c"/>
<rect x="93.41" y="83.3" width="4.01" height="11.6" fill="#1a0c0c"/>
<rect x="97.38" y="83.3" width="4.01" height="11.6" fill="#a71115"/>
<rect x="101.34" y="83.3" width="4.01" height="11.6" fill="#1a0c0c"/>
<rect x="105.3" y="83.3" width="4.01" height="11.6" fill="#a71115"/>
<rect x="109.26" y="83.3" width="4.01" height="11.6" fill="#1a0c0c"/>
<rect x="113.23" y="83.3" width="4.01" height="11.6" fill="#4e0e0f"/>
<rect x="117.19" y="83.3" width="4.01" height="11.6" fill="#249b3d"/>
<rect x="121.15" y="83.3" width="4.01" height="11.6" fill="#1a0c0c"/>
<rect x="125.11" y="83.3" width="4.01" height="11.6" fill="#5c0e10"/>
<rect x="129.08" y="83.3" width="4.01" height="11.6" fill="#420d0e"/>
<rect x="133.04" y="83.3" width="4.01" height="11.6" fill="#250c0c"/>
<rect x="137" y="83.3" width="4.01" height="11.6" fill="#300c0d"/>
<rect x="140.96" y="83.3" width="4.01" height="11.6" fill="#300c0d"/>
<rect x="144.93" y="83.3" width="4.01" height="11.6" fill="#250c0c"/>
<rect x="148.89" y="83.3" width="4.01" height="11.6" fill="#300c0d"/>
<rect x="152.85" y="83.3" width="4.01" height="11.6" fill="#300c0d"/>
<rect x="156.81" y="83.3" width="4.01" height="11.6" fill="#971014"/>
<rect x="160.78" y="83.3" width="4.01" height="11.6" fill="#420d0e"/>
<rect x="164.74" y="83.3" width="4.01" height="11.6" fill="#210c0c"/>
<rect x="168.7" y="83.3" width="4.01" height="11.6" fill="#210c0c"/>
<rect x="172.66" y="83.3" width="4.01" height="11.6" fill="#210c0c"/>
<rect x="176.62" y="83.3" width="4.01" height="11.6" fill="#300c0d"/>
<rect x="180.59" y="83.3" width="4.01" height="11.6" fill="#250c0c"/>
<rect x="184.55" y="83.3" width="4.01" height="11.6" fill="#300c0d"/>
<rect x="188.51" y="83.3" width="4.01" height="11.6" fill="#210c0c"/>
<rect x="192.47" y="83.3" width="4.01" height="11.6" fill="#971014"/>
<rect x="196.44" y="83.3" width="4.01" height="11.6" fill="#1a0c0c"/>
<rect x="10.2" y="94.9" width="4.01" height="11.5" fill="#250c0c"/>
<rect x="14.16" y="94.9" width="4.01" height="11.5" fill="#250c0c"/>
<rect x="18.12" y="94.9" width="4.01" height="11.5" fill="#217d33"/>
<rect x="22.09" y="94.9" width="4.01" height="11.5" fill="#300c0d"/>
<rect x="26.05" y="94.9" width="4.01" height="11.5" fill="#250c0c"/>
<rect x="30.01" y="94.9" width="4.01" height="11.5" fill="#420d0e"/>
<rect x="33.98" y="94.9" width="4.01" height="11.5" fill="#217d33"/>
<rect x="37.94" y="94.9" width="4.01" height="11.5" fill="#1e6029"/>
<rect x="41.9" y="94.9" width="4.01" height="11.5" fill="#4e0e0f"/>
<rect x="45.86" y="94.9" width="4.01" height="11.5" fill="#1b441f"/>
<rect x="49.83" y="94.9" width="4.01" height="11.5" fill="#250c0c"/>
<rect x="53.79" y="94.9" width="4.01" height="11.5" fill="#300c0d"/>
<rect x="57.75" y="94.9" width="4.01" height="11.5" fill="#420d0e"/>
<rect x="61.71" y="94.9" width="4.01" height="11.5" fill="#1c4f23"/>
<rect x="65.68" y="94.9" width="4.01" height="11.5" fill="#1b441f"/>
<rect x="69.64" y="94.9" width="4.01" height="11.5" fill="#1a0c0c"/>
<rect x="73.6" y="94.9" width="4.01" height="11.5" fill="#228937"/>
<rect x="77.56" y="94.9" width="4.01" height="11.5" fill="#193a1c"/>
<rect x="81.53" y="94.9" width="4.01" height="11.5" fill="#1a0c0c"/>
<rect x="85.49" y="94.9" width="4.01" height="11.5" fill="#1c4f23"/>
<rect x="89.45" y="94.9" width="4.01" height="11.5" fill="#250c0c"/>
<rect x="93.41" y="94.9" width="4.01" height="11.5" fill="#300c0d"/>
<rect x="97.38" y="94.9" width="4.01" height="11.5" fill="#1a0c0c"/>
<rect x="101.34" y="94.9" width="4.01" height="11.5" fill="#1b441f"/>
<rect x="105.3" y="94.9" width="4.01" height="11.5" fill="#210c0c"/>
<rect x="109.26" y="94.9" width="4.01" height="11.5" fill="#300c0d"/>
<rect x="113.23" y="94.9" width="4.01" height="11.5" fill="#420d0e"/>
<rect x="117.19" y="94.9" width="4.01" height="11.5" fill="#1c4f23"/>
<rect x="121.15" y="94.9" width="4.01" height="11.5" fill="#1a0c0c"/>
<rect x="125.11" y="94.9" width="4.01" height="11.5" fill="#300c0d"/>
<rect x="129.08" y="94.9" width="4.01" height="11.5" fill="#a71115"/>
<rect x="133.04" y="94.9" width="4.01" height="11.5" fill="#1a0c0c"/>
<rect x="137" y="94.9" width="4.01" height="11.5" fill="#300c0d"/>
<rect x="140.96" y="94.9" width="4.01" height="11.5" fill="#250c0c"/>
<rect x="144.93" y="94.9" width="4.01" height="11.5" fill="#250c0c"/>
<rect x="148.89" y="94.9" width="4.01" height="11.5" fill="#1c0c0c"/>
<rect x="152.85" y="94.9" width="4.01" height="11.5" fill="#250c0c"/>
<rect x="156.81" y="94.9" width="4.01" height="11.5" fill="#28bb48"/>
<rect x="160.78" y="94.9" width="4.01" height="11.5" fill="#1a0c0c"/>
<rect x="164.74" y="94.9" width="4.01" height="11.5" fill="#c01217"/>
<rect x="168.7" y="94.9" width="4.01" height="11.5" fill="#c01217"/>
<rect x="172.66" y="94.9" width="4.01" height="11.5" fill="#971014"/>
<rect x="176.62" y="94.9" width="4.01" height="11.5" fill="#1a0c0c"/>
<rect x="180.59" y="94.9" width="4.01" height="11.5" fill="#1a0c0c"/>
<rect x="184.55" y="94.9" width="4.01" height="11.5" fill="#210c0c"/>
<rect x="188.51" y="94.9" width="4.01" height="11.5" fill="#1a0c0c"/>
<rect x="192.47" y="94.9" width="4.01" height="11.5" fill="#5c0e10"/>
<rect x="196.44" y="94.9" width="4.01" height="11.5" fill="#1a0c0c"/>
<rect x="10.2" y="106.4" width="4.01" height="11.6" fill="#c01217"/>
<rect x="14.16" y="106.4" width="4.01" height="11.6" fill="#1b441f"/>
<rect x="18.12" y="106.4" width="4.01" height="11.6" fill="#a71115"/>
<rect x="22.09" y="106.4" width="4.01" height="11.6" fill="#217d33"/>
<rect x="26.05" y="106.4" width="4.01" height="11.6" fill="#210c0c"/>
<rect x="30.01" y="106.4" width="4.01" height="11.6" fill="#249b3d"/>
<rect x="33.98" y="106.4" width="4.01" height="11.6" fill="#1a0c0c"/>
<rect x="37.94" y="106.4" width="4.01" height="11.6" fill="#210c0c"/>
<rect x="41.9" y="106.4" width="4.01" height="11.6" fill="#420d0e"/>
<rect x="45.86" y="106.4" width="4.01" height="11.6" fill="#1e6029"/>
<rect x="49.83" y="106.4" width="4.01" height="11.6" fill="#1a0c0c"/>
<rect x="53.79" y="106.4" width="4.01" height="11.6" fill="#228937"/>
<rect x="57.75" y="106.4" width="4.01" height="11.6" fill="#217d33"/>
<rect x="61.71" y="106.4" width="4.01" height="11.6" fill="#300c0d"/>
<rect x="65.68" y="106.4" width="4.01" height="11.6" fill="#420d0e"/>
<rect x="69.64" y="106.4" width="4.01" height="11.6" fill="#250c0c"/>
<rect x="73.6" y="106.4" width="4.01" height="11.6" fill="#217d33"/>
<rect x="77.56" y="106.4" width="4.01" height="11.6" fill="#182b17"/>
<rect x="81.53" y="106.4" width="4.01" height="11.6" fill="#a71115"/>
<rect x="85.49" y="106.4" width="4.01" height="11.6" fill="#1b441f"/>
<rect x="89.45" y="106.4" width="4.01" height="11.6" fill="#1a0c0c"/>
<rect x="93.41" y="106.4" width="4.01" height="11.6" fill="#420d0e"/>
<rect x="97.38" y="106.4" width="4.01" height="11.6" fill="#182b17"/>
<rect x="101.34" y="106.4" width="4.01" height="11.6" fill="#182f18"/>
<rect x="105.3" y="106.4" width="4.01" height="11.6" fill="#172113"/>
<rect x="109.26" y="106.4" width="4.01" height="11.6" fill="#1a0c0c"/>
<rect x="113.23" y="106.4" width="4.01" height="11.6" fill="#210c0c"/>
<rect x="117.19" y="106.4" width="4.01" height="11.6" fill="#1a0c0c"/>
<rect x="121.15" y="106.4" width="4.01" height="11.6" fill="#300c0d"/>
<rect x="125.11" y="106.4" width="4.01" height="11.6" fill="#250c0c"/>
<rect x="129.08" y="106.4" width="4.01" height="11.6" fill="#300c0d"/>
<rect x="133.04" y="106.4" width="4.01" height="11.6" fill="#210c0c"/>
<rect x="137" y="106.4" width="4.01" height="11.6" fill="#1b441f"/>
<rect x="140.96" y="106.4" width="4.01" height="11.6" fill="#193a1c"/>
<rect x="144.93" y="106.4" width="4.01" height="11.6" fill="#4e0e0f"/>
<rect x="148.89" y="106.4" width="4.01" height="11.6" fill="#420d0e"/>
<rect x="152.85" y="106.4" width="4.01" height="11.6" fill="#210c0c"/>
<rect x="156.81" y="106.4" width="4.01" height="11.6" fill="#193a1c"/>
<rect x="160.78" y="106.4" width="4.01" height="11.6" fill="#1a0c0c"/>
<rect x="164.74" y="106.4" width="4.01" height="11.6" fill="#300c0d"/>
<rect x="168.7" y="106.4" width="4.01" height="11.6" fill="#210c0c"/>
<rect x="172.66" y="106.4" width="4.01" height="11.6" fill="#250c0c"/>
<rect x="176.62" y="106.4" width="4.01" height="11.6" fill="#4e0e0f"/>
<rect x="180.59" y="106.4" width="4.01" height="11.6" fill="#420d0e"/>
<rect x="184.55" y="106.4" width="4.01" height="11.6" fill="#1a0c0c"/>
<rect x="188.51" y="106.4" width="4.01" height="11.6" fill="#210c0c"/>
<rect x="192.47" y="106.4" width="4.01" height="11.6" fill="#c01217"/>
<rect x="196.44" y="106.4" width="4.01" height="11.6" fill="#1a0c0c"/>
<rect x="10.2" y="119.3" width="4.01" height="11.1" fill="#9f1114"/>
<rect x="14.16" y="119.3" width="4.01" height="11.1" fill="#901013"/>
<rect x="18.12" y="119.3" width="4.01" height="11.1" fill="#881013"/>
<rect x="22.09" y="119.3" width="4.01" height="11.1" fill="#710f11"/>
<rect x="26.05" y="119.3" width="4.01" height="11.1" fill="#6a0f11"/>
<rect x="30.01" y="119.3" width="4.01" height="11.1" fill="#630e10"/>
<rect x="33.98" y="119.3" width="4.01" height="11.1" fill="#5f0e10"/>
<rect x="37.94" y="119.3" width="4.01" height="11.1" fill="#5c0e10"/>
<rect x="41.9" y="119.3" width="4.01" height="11.1" fill="#590e10"/>
<rect x="45.86" y="119.3" width="4.01" height="11.1" fill="#550e0f"/>
<rect x="49.83" y="119.3" width="4.01" height="11.1" fill="#4e0e0f"/>
<rect x="53.79" y="119.3" width="4.01" height="11.1" fill="#480d0f"/>
<rect x="57.75" y="119.3" width="4.01" height="11.1" fill="#420d0e"/>
<rect x="61.71" y="119.3" width="4.01" height="11.1" fill="#420d0e"/>
<rect x="65.68" y="119.3" width="4.01" height="11.1" fill="#3b0d0e"/>
<rect x="69.64" y="119.3" width="4.01" height="11.1" fill="#3b0d0e"/>
<rect x="73.6" y="119.3" width="4.01" height="11.1" fill="#350d0d"/>
<rect x="77.56" y="119.3" width="4.01" height="11.1" fill="#300c0d"/>
<rect x="81.53" y="119.3" width="4.01" height="11.1" fill="#2d0c0d"/>
<rect x="85.49" y="119.3" width="4.01" height="11.1" fill="#280c0c"/>
<rect x="89.45" y="119.3" width="4.01" height="11.1" fill="#230c0c"/>
<rect x="93.41" y="119.3" width="4.01" height="11.1" fill="#1c0c0c"/>
<rect x="97.38" y="119.3" width="4.01" height="11.1" fill="#1a0c0c"/>
<rect x="101.34" y="119.3" width="4.01" height="11.1" fill="#161b11"/>
<rect x="105.3" y="119.3" width="4.01" height="11.1" fill="#172113"/>
<rect x="109.26" y="119.3" width="4.01" height="11.1" fill="#172615"/>
<rect x="113.23" y="119.3" width="4.01" height="11.1" fill="#182b17"/>
<rect x="117.19" y="119.3" width="4.01" height="11.1" fill="#182d17"/>
<rect x="121.15" y="119.3" width="4.01" height="11.1" fill="#182f18"/>
<rect x="125.11" y="119.3" width="4.01" height="11.1" fill="#19341a"/>
<rect x="129.08" y="119.3" width="4.01" height="11.1" fill="#19371b"/>
<rect x="133.04" y="119.3" width="4.01" height="11.1" fill="#193a1c"/>
<rect x="137" y="119.3" width="4.01" height="11.1" fill="#1a3f1e"/>
<rect x="140.96" y="119.3" width="4.01" height="11.1" fill="#1a411e"/>
<rect x="144.93" y="119.3" width="4.01" height="11.1" fill="#1b441f"/>
<rect x="148.89" y="119.3" width="4.01" height="11.1" fill="#1b4a21"/>
<rect x="152.85" y="119.3" width="4.01" height="11.1" fill="#1c4f23"/>
<rect x="156.81" y="119.3" width="4.01" height="11.1" fill="#1c5224"/>
<rect x="160.78" y="119.3" width="4.01" height="11.1" fill="#1c5525"/>
<rect x="164.74" y="119.3" width="4.01" height="11.1" fill="#1d5a27"/>
<rect x="168.7" y="119.3" width="4.01" height="11.1" fill="#1e6029"/>
<rect x="172.66" y="119.3" width="4.01" height="11.1" fill="#1e632a"/>
<rect x="176.62" y="119.3" width="4.01" height="11.1" fill="#1e662b"/>
<rect x="180.59" y="119.3" width="4.01" height="11.1" fill="#1f6b2d"/>
<rect x="184.55" y="119.3" width="4.01" height="11.1" fill="#20712f"/>
<rect x="188.51" y="119.3" width="4.01" height="11.1" fill="#218335"/>
<rect x="192.47" y="119.3" width="4.01" height="11.1" fill="#238f39"/>
<rect x="196.44" y="119.3" width="4.01" height="11.1" fill="#249b3d"/>
</g>
<text x="203.8" y="18.9" font-size="5.95" fill="#222">DEXP mRNA</text>
<text x="203.8" y="24.2" font-size="5.95" fill="#222">MYC Class</text>
<text x="203.8" y="29.8" font-size="5.95" fill="#222">BCL2 Class</text>
<text x="203.8" y="35.1" font-size="5.95" fill="#222">IPI</text>
<text x="203.8" y="40.7" font-size="5.95" fill="#222">COO Class</text>
<text x="203.8" y="46.3" font-size="5.95" fill="#222">MetSig</text>
<text x="203.8" y="56" font-size="8" fill="#222">PDK4</text>
<text x="203.8" y="67.8" font-size="8" fill="#222">SLC25A1</text>
<text x="203.8" y="79.4" font-size="8" fill="#222">PDPR</text>
<text x="203.8" y="92.2" font-size="8" fill="#222">MAP2K1</text>
<text x="203.8" y="103.8" font-size="8" fill="#222">HIF1A</text>
<text x="203.8" y="115.4" font-size="8" fill="#222">GBE1</text>
<text x="203.8" y="127.9" font-size="8" fill="#222">MetSig</text>
<defs><linearGradient id="hk" x1="0" x2="1" y1="0" y2="0"><stop offset="0" stop-color="#9cd494"/><stop offset="0.22" stop-color="#4aa650"/><stop offset="0.5" stop-color="#141010"/><stop offset="0.75" stop-color="#9a2a2a"/><stop offset="1" stop-color="#ec5a5a"/></linearGradient></defs>
<rect x="136.2" y="132" width="64" height="3" fill="url(#hk)"/>
<text x="138" y="138.4" font-size="4.8" fill="#444" text-anchor="middle">&#8722;3</text>
<text x="167.2" y="138.4" font-size="4.8" fill="#444" text-anchor="middle">0</text>
<text x="198" y="138.4" font-size="4.8" fill="#444" text-anchor="middle">3</text>
<text x="147.8" y="144" font-size="5.8" fill="#333">log<tspan font-size="3.8" dy="1.2">2</tspan><tspan dy="-1.2"> norm value</tspan></text>
<text x="13.1" y="152.5" font-size="7" fill="#333">MetSig</text>
<rect x="61.4" y="146.9" width="6.5" height="6.4" fill="#a8336f"/>
<text x="71.6" y="152.5" font-size="7" fill="#333">High</text>
<rect x="94.9" y="146.9" width="6.5" height="6.4" fill="#d0d0d0"/>
<text x="104.8" y="152.5" font-size="7" fill="#333">Low</text>
<text x="13.1" y="162.97" font-size="7" fill="#333">COO Class</text>
<rect x="61.4" y="157.37" width="6.5" height="6.4" fill="#f2b47e"/>
<text x="71.6" y="162.97" font-size="7" fill="#333">GCB</text>
<rect x="94.9" y="157.37" width="6.5" height="6.4" fill="#c8a0d4"/>
<text x="104.8" y="162.97" font-size="7" fill="#333">ABC</text>
<rect x="132.6" y="157.37" width="6.5" height="6.4" fill="#d2d2d2"/>
<text x="146.8" y="162.97" font-size="7" fill="#333">UNC</text>
<text x="13.1" y="173.44" font-size="7" fill="#333">IPI</text>
<rect x="61.4" y="167.84" width="6.5" height="6.4" fill="#d9a418"/>
<text x="71.6" y="173.44" font-size="7" fill="#333">High</text>
<rect x="94.9" y="167.84" width="6.5" height="6.4" fill="#f6dfae"/>
<text x="104.8" y="173.44" font-size="7" fill="#333">Low</text>
<text x="13.1" y="183.91" font-size="7" fill="#333">BCL2 Class</text>
<rect x="61.4" y="178.31" width="6.5" height="6.4" fill="#4a78c0"/>
<text x="71.6" y="183.91" font-size="7" fill="#333">High</text>
<rect x="94.9" y="178.31" width="6.5" height="6.4" fill="#bcc6e6"/>
<text x="104.8" y="183.91" font-size="7" fill="#333">Low</text>
<text x="13.1" y="194.38" font-size="7" fill="#333">MYC Class</text>
<rect x="61.4" y="188.78" width="6.5" height="6.4" fill="#4a78c0"/>
<text x="71.6" y="194.38" font-size="7" fill="#333">High</text>
<rect x="94.9" y="188.78" width="6.5" height="6.4" fill="#bcc6e6"/>
<text x="104.8" y="194.38" font-size="7" fill="#333">Low</text>
<text x="13.1" y="204.85" font-size="7" fill="#333">DEXP mRNA</text>
<rect x="61.4" y="199.25" width="6.5" height="6.4" fill="#4a78c0"/>
<text x="71.6" y="204.85" font-size="7" fill="#333">DE</text>
<rect x="94.9" y="199.25" width="6.5" height="6.4" fill="#bcc6e6"/>
<text x="104.8" y="204.85" font-size="7" fill="#333">not DE</text>
<rect x="358.7" y="14" width="118.2" height="126.7" fill="none" stroke="#111" stroke-width="1.25"/>
<line x1="356.2" x2="358.2" y1="19.2" y2="19.2" stroke="#222" stroke-width="0.9"/>
<text x="353.1" y="20.9" font-size="6.85" font-style="italic" fill="#333" text-anchor="end">mitochondrial matrix</text>
<circle cx="471.18" cy="19.2" r="2.9" fill="#da0c2e"/>
<line x1="356.2" x2="358.2" y1="27.53" y2="27.53" stroke="#222" stroke-width="0.9"/>
<text x="353.1" y="29.23" font-size="6.85" font-style="italic" fill="#333" text-anchor="end">oxidoreductase complex</text>
<circle cx="419.44" cy="27.53" r="2.6" fill="#d8102f"/>
<line x1="356.2" x2="358.2" y1="35.86" y2="35.86" stroke="#222" stroke-width="0.9"/>
<text x="353.1" y="37.56" font-size="6.85" font-style="italic" fill="#333" text-anchor="end">apical part of cell</text>
<circle cx="411.48" cy="35.86" r="2.3" fill="#d8102f"/>
<line x1="356.2" x2="358.2" y1="44.19" y2="44.19" stroke="#222" stroke-width="0.9"/>
<text x="353.1" y="45.89" font-size="6.85" font-style="italic" fill="#333" text-anchor="end">transferase complex</text>
<circle cx="407.5" cy="44.19" r="2.25" fill="#d8102f"/>
<line x1="356.2" x2="358.2" y1="52.52" y2="52.52" stroke="#222" stroke-width="0.9"/>
<text x="353.1" y="54.22" font-size="6.85" font-style="italic" fill="#333" text-anchor="end">apical plasma membrane</text>
<circle cx="407.5" cy="52.52" r="2.25" fill="#d8102f"/>
<line x1="356.2" x2="358.2" y1="60.85" y2="60.85" stroke="#222" stroke-width="0.9"/>
<text x="353.1" y="62.55" font-size="6.85" font-style="italic" fill="#333" text-anchor="end">vesicle lumen</text>
<circle cx="403.52" cy="60.85" r="2.2" fill="#d8102f"/>
<line x1="356.2" x2="358.2" y1="69.18" y2="69.18" stroke="#222" stroke-width="0.9"/>
<text x="353.1" y="70.88" font-size="6.85" font-style="italic" fill="#333" text-anchor="end">secretory granule lumen</text>
<circle cx="399.54" cy="69.18" r="2.15" fill="#453f88"/>
<line x1="356.2" x2="358.2" y1="77.51" y2="77.51" stroke="#222" stroke-width="0.9"/>
<text x="353.1" y="79.21" font-size="6.85" font-style="italic" fill="#333" text-anchor="end">cytoplasmic vesicle lumen</text>
<circle cx="399.54" cy="77.51" r="2.15" fill="#453f88"/>
<line x1="356.2" x2="358.2" y1="85.84" y2="85.84" stroke="#222" stroke-width="0.9"/>
<text x="353.1" y="87.54" font-size="6.85" font-style="italic" fill="#333" text-anchor="end">ficolin 1 rich granule</text>
<circle cx="395.56" cy="85.84" r="2.1" fill="#da0c2e"/>
<line x1="356.2" x2="358.2" y1="94.17" y2="94.17" stroke="#222" stroke-width="0.9"/>
<text x="353.1" y="95.87" font-size="6.85" font-style="italic" fill="#333" text-anchor="end">ficolin 1 rich granule lumen</text>
<circle cx="387.6" cy="94.17" r="2" fill="#da0c2e"/>
<line x1="356.2" x2="358.2" y1="102.5" y2="102.5" stroke="#222" stroke-width="0.9"/>
<text x="353.1" y="104.2" font-size="6.85" font-style="italic" fill="#333" text-anchor="end">TCA cycle complex</text>
<circle cx="375.66" cy="102.5" r="2" fill="#da0c2e"/>
<line x1="356.2" x2="358.2" y1="110.83" y2="110.83" stroke="#222" stroke-width="0.9"/>
<text x="353.1" y="112.53" font-size="6.85" font-style="italic" fill="#333" text-anchor="end">NADPH oxidase complex</text>
<circle cx="367.7" cy="110.83" r="1.75" fill="#da0c2e"/>
<line x1="356.2" x2="358.2" y1="119.16" y2="119.16" stroke="#222" stroke-width="0.9"/>
<text x="353.1" y="120.86" font-size="6.85" font-style="italic" fill="#333" text-anchor="end">TOR complex</text>
<circle cx="367.7" cy="119.16" r="1.6" fill="#da0c2e"/>
<line x1="356.2" x2="358.2" y1="127.49" y2="127.49" stroke="#222" stroke-width="0.9"/>
<text x="353.1" y="129.19" font-size="6.85" font-style="italic" fill="#333" text-anchor="end">region of cytosol</text>
<circle cx="367.7" cy="127.49" r="1.6" fill="#da0c2e"/>
<line x1="356.2" x2="358.2" y1="135.82" y2="135.82" stroke="#222" stroke-width="0.9"/>
<text x="353.1" y="137.52" font-size="6.85" font-style="italic" fill="#333" text-anchor="end">TORC2 complex</text>
<circle cx="363.72" cy="135.82" r="1.35" fill="#da0c2e"/>
<line x1="387.6" x2="387.6" y1="141" y2="143.6" stroke="#222" stroke-width="0.9"/>
<text x="387.6" y="154.2" font-size="7" fill="#333" text-anchor="middle">10</text>
<line x1="427.4" x2="427.4" y1="141" y2="143.6" stroke="#222" stroke-width="0.9"/>
<text x="427.4" y="154.2" font-size="7" fill="#333" text-anchor="middle">20</text>
<line x1="467.2" x2="467.2" y1="141" y2="143.6" stroke="#222" stroke-width="0.9"/>
<text x="467.2" y="154.2" font-size="7" fill="#333" text-anchor="middle">30</text>
<text x="408.8" y="167.4" font-size="9" fill="#222" stroke="#222" stroke-width="0.2" textLength="17.4" lengthAdjust="spacingAndGlyphs">Count</text>
<rect x="479.4" y="13.9" width="11.6" height="126.6" fill="#c3c3c6"/>
<text transform="translate(482.1,32.6) rotate(90)" font-size="9.2" fill="#1a1a1a">Cellular Compartment</text>
<text x="493.4" y="17.9" font-size="7" fill="#333"><tspan font-style="italic">P</tspan> value</text>
<defs><linearGradient id="pg" x1="0" x2="0" y1="0" y2="1"><stop offset="0" stop-color="#ee0a2a"/><stop offset="0.45" stop-color="#c41472"/><stop offset="1" stop-color="#5a3e98"/></linearGradient></defs>
<rect x="493.1" y="20.7" width="5.8" height="29.3" fill="url(#pg)"/>
<text x="499.9" y="32.4" font-size="6.1" fill="#444">5.0e-05</text>
<text x="499.9" y="41.6" font-size="6.1" fill="#444">1.0e-04</text>
<text x="499.9" y="50.6" font-size="6.1" fill="#444">1.5e-04</text>
<text x="494.6" y="65.2" font-size="7" fill="#333">Count</text>
<circle cx="497.6" cy="70.2" r="2" fill="#111"/>
<text x="504.4" y="72.3" font-size="6.1" fill="#444">10</text>
<circle cx="497.6" cy="78.4" r="2.55" fill="#111"/>
<text x="504.4" y="80.5" font-size="6.1" fill="#444">20</text>
<circle cx="497.6" cy="86.6" r="3" fill="#111"/>
<text x="504.4" y="88.7" font-size="6.1" fill="#444">30</text>
<polygon points="65.4,242.3 75.8,242.3 75.8,254.5 78.1,254.5 78.1,260.6 81.4,260.6 81.4,267.7 85.1,267.7 85.1,282.5 93.2,282.5 93.2,290.3 100.8,290.3 100.8,298.8 115,298.8 115,307.2 226.5,307.2 226.5,382.3 116.2,382.3 116.2,372.5 101.7,372.5 101.7,364.4 94.2,364.4 94.2,355.2 85.6,355.2 85.6,339.5 82,339.5 82,330.5 80.1,330.5 80.1,322 77,322 77,303.2 73.5,303.2 73.5,279.3 69.3,279.3 69.3,265.2 65.4,265.2 65.4,242.3" fill="#e9aba0" />
<rect x="213.9" y="242.3" width="6.0" height="135.8" fill="#7682b8" fill-opacity="0.55"/>
<path d="M61.5,242.3 H214.2 V320.1 H220.8" fill="none" stroke="#5a6ea4" stroke-width="1"/>
<line x1="66.5" x2="66.5" y1="241" y2="243.6" stroke="#5a6ea4" stroke-width="0.7"/>
<line x1="70" x2="70" y1="241" y2="243.6" stroke="#5a6ea4" stroke-width="0.7"/>
<line x1="90.8" x2="90.8" y1="241" y2="243.6" stroke="#5a6ea4" stroke-width="0.7"/>
<line x1="99.2" x2="99.2" y1="241" y2="243.6" stroke="#5a6ea4" stroke-width="0.7"/>
<line x1="122.3" x2="122.3" y1="241" y2="243.6" stroke="#5a6ea4" stroke-width="0.7"/>
<line x1="137.7" x2="137.7" y1="241" y2="243.6" stroke="#5a6ea4" stroke-width="0.7"/>
<line x1="141.1" x2="141.1" y1="241" y2="243.6" stroke="#5a6ea4" stroke-width="0.7"/>
<line x1="144.9" x2="144.9" y1="241" y2="243.6" stroke="#5a6ea4" stroke-width="0.7"/>
<line x1="148" x2="148" y1="241" y2="243.6" stroke="#5a6ea4" stroke-width="0.7"/>
<line x1="153.4" x2="153.4" y1="241" y2="243.6" stroke="#5a6ea4" stroke-width="0.7"/>
<line x1="158" x2="158" y1="241" y2="243.6" stroke="#5a6ea4" stroke-width="0.7"/>
<line x1="160.8" x2="160.8" y1="241" y2="243.6" stroke="#5a6ea4" stroke-width="0.7"/>
<line x1="176.5" x2="176.5" y1="241" y2="243.6" stroke="#5a6ea4" stroke-width="0.7"/>
<line x1="181.1" x2="181.1" y1="241" y2="243.6" stroke="#5a6ea4" stroke-width="0.7"/>
<line x1="185.7" x2="185.7" y1="241" y2="243.6" stroke="#5a6ea4" stroke-width="0.7"/>
<line x1="196.5" x2="196.5" y1="241" y2="243.6" stroke="#5a6ea4" stroke-width="0.7"/>
<line x1="200.3" x2="200.3" y1="241" y2="243.6" stroke="#5a6ea4" stroke-width="0.7"/>
<line x1="208" x2="208" y1="241" y2="243.6" stroke="#5a6ea4" stroke-width="0.7"/>
<path d="M65.4,242.3 H66.2 V250.2 H67.7 V259.1 H72.8 V276.2 H76.3 V293.9 H79.3 V302.4 H82.2 V311.2 H85.1 V328.2 H93.7 V338.2 H101.4 V348.3 H115.6 V360.4 H226.5" fill="none" stroke="#b8222e" stroke-width="1"/>
<line x1="111.3" x2="111.3" y1="347" y2="349.6" stroke="#b8222e" stroke-width="0.7"/>
<line x1="127" x2="127" y1="359.1" y2="361.7" stroke="#b8222e" stroke-width="0.7"/>
<line x1="183.8" x2="183.8" y1="359.1" y2="361.7" stroke="#b8222e" stroke-width="0.7"/>
<text x="173.6" y="262.9" font-size="7" font-style="italic" fill="#333">MetSig Low</text>
<text x="172.6" y="353.6" font-size="7" font-style="italic" fill="#333">MetSig High</text>
<text x="61.0" y="399.8" font-size="7.3" fill="#222"><tspan font-style="italic">P</tspan><tspan dx="1.3">&lt;</tspan><tspan dx="1.0">.0001</tspan></text>
<rect x="53.8" y="234.8" width="173.4" height="170.6" fill="none" stroke="#111" stroke-width="1.4"/>
<line x1="50.8" x2="53.3" y1="242.3" y2="242.3" stroke="#222" stroke-width="1"/>
<text x="46.2" y="245.1" font-size="9.2" fill="#333" text-anchor="end" textLength="17.73" lengthAdjust="spacingAndGlyphs">1.00</text>
<line x1="50.8" x2="53.3" y1="281.2" y2="281.2" stroke="#222" stroke-width="1"/>
<text x="46.2" y="284" font-size="9.2" fill="#333" text-anchor="end" textLength="17.73" lengthAdjust="spacingAndGlyphs">0.75</text>
<line x1="50.8" x2="53.3" y1="320.1" y2="320.1" stroke="#222" stroke-width="1"/>
<text x="46.2" y="322.9" font-size="9.2" fill="#333" text-anchor="end" textLength="17.73" lengthAdjust="spacingAndGlyphs">0.50</text>
<line x1="50.8" x2="53.3" y1="359" y2="359" stroke="#222" stroke-width="1"/>
<text x="46.2" y="361.8" font-size="9.2" fill="#333" text-anchor="end" textLength="17.73" lengthAdjust="spacingAndGlyphs">0.25</text>
<line x1="50.8" x2="53.3" y1="397.9" y2="397.9" stroke="#222" stroke-width="1"/>
<text x="46.2" y="400.7" font-size="9.2" fill="#333" text-anchor="end" textLength="17.73" lengthAdjust="spacingAndGlyphs">0.00</text>
<line x1="61.3" x2="61.3" y1="405.9" y2="408.4" stroke="#222" stroke-width="1"/>
<text x="61.6" y="420.6" font-size="9.2" fill="#333" text-anchor="middle" textLength="5.12" lengthAdjust="spacingAndGlyphs">0</text>
<line x1="100.78" x2="100.78" y1="405.9" y2="408.4" stroke="#222" stroke-width="1"/>
<text x="101.08" y="420.6" font-size="9.2" fill="#333" text-anchor="middle" textLength="10.23" lengthAdjust="spacingAndGlyphs">25</text>
<line x1="140.25" x2="140.25" y1="405.9" y2="408.4" stroke="#222" stroke-width="1"/>
<text x="140.55" y="420.6" font-size="9.2" fill="#333" text-anchor="middle" textLength="10.23" lengthAdjust="spacingAndGlyphs">50</text>
<line x1="179.72" x2="179.72" y1="405.9" y2="408.4" stroke="#222" stroke-width="1"/>
<text x="180.03" y="420.6" font-size="9.2" fill="#333" text-anchor="middle" textLength="10.23" lengthAdjust="spacingAndGlyphs">75</text>
<line x1="219.2" x2="219.2" y1="405.9" y2="408.4" stroke="#222" stroke-width="1"/>
<text x="219.5" y="420.6" font-size="9.2" fill="#333" text-anchor="middle" textLength="15.35" lengthAdjust="spacingAndGlyphs">100</text>
<text x="116.9" y="438.3" font-size="9.6" fill="#222" stroke="#222" stroke-width="0.2" textLength="46.9" lengthAdjust="spacingAndGlyphs">Time (months)</text>
<text transform="translate(18.9,319.7) rotate(-90)" font-size="10.4" fill="#222" stroke="#222" stroke-width="0.2" text-anchor="middle" textLength="12.6" lengthAdjust="spacingAndGlyphs">PFS</text>
<polygon points="345.2,242.3 366.5,242.3 366.5,248.6 383.8,248.6 383.8,269.5 435.4,269.5 435.4,273.7 498.8,273.7 498.8,370.5 435.8,370.5 435.8,350.8 384.2,350.8 384.2,339.2 376.5,339.2 376.5,327.7 373.2,327.7 373.2,316.9 367.3,316.9 367.3,304.3 362.1,304.3 362.1,293.1 357,293.1 357,281 344.7,281 344.7,242.3" fill="#e9aba0" />
<rect x="373.1" y="242.5" width="120.7" height="18.1" fill="#7682b8" fill-opacity="0.56"/>
<path d="M333.9,242.2 H372.9 V249.1 H493.8" fill="none" stroke="#5a6ea4" stroke-width="1"/>
<line x1="336.5" x2="336.5" y1="241" y2="243.5" stroke="#5a6ea4" stroke-width="0.7"/>
<line x1="339.5" x2="339.5" y1="241" y2="243.5" stroke="#5a6ea4" stroke-width="0.7"/>
<line x1="341" x2="341" y1="241" y2="243.5" stroke="#5a6ea4" stroke-width="0.7"/>
<line x1="357.5" x2="357.5" y1="241" y2="243.5" stroke="#5a6ea4" stroke-width="0.7"/>
<line x1="373.5" x2="373.5" y1="241" y2="243.5" stroke="#5a6ea4" stroke-width="0.7"/>
<line x1="395" x2="395" y1="247.8" y2="250.4" stroke="#5a6ea4" stroke-width="0.7"/>
<line x1="407" x2="407" y1="247.8" y2="250.4" stroke="#5a6ea4" stroke-width="0.7"/>
<line x1="410" x2="410" y1="247.8" y2="250.4" stroke="#5a6ea4" stroke-width="0.7"/>
<line x1="412" x2="412" y1="247.8" y2="250.4" stroke="#5a6ea4" stroke-width="0.7"/>
<line x1="414" x2="414" y1="247.8" y2="250.4" stroke="#5a6ea4" stroke-width="0.7"/>
<line x1="417" x2="417" y1="247.8" y2="250.4" stroke="#5a6ea4" stroke-width="0.7"/>
<line x1="420" x2="420" y1="247.8" y2="250.4" stroke="#5a6ea4" stroke-width="0.7"/>
<line x1="423" x2="423" y1="247.8" y2="250.4" stroke="#5a6ea4" stroke-width="0.7"/>
<line x1="430" x2="430" y1="247.8" y2="250.4" stroke="#5a6ea4" stroke-width="0.7"/>
<line x1="437" x2="437" y1="247.8" y2="250.4" stroke="#5a6ea4" stroke-width="0.7"/>
<line x1="442" x2="442" y1="247.8" y2="250.4" stroke="#5a6ea4" stroke-width="0.7"/>
<line x1="447" x2="447" y1="247.8" y2="250.4" stroke="#5a6ea4" stroke-width="0.7"/>
<line x1="452" x2="452" y1="247.8" y2="250.4" stroke="#5a6ea4" stroke-width="0.7"/>
<line x1="456" x2="456" y1="247.8" y2="250.4" stroke="#5a6ea4" stroke-width="0.7"/>
<line x1="462" x2="462" y1="247.8" y2="250.4" stroke="#5a6ea4" stroke-width="0.7"/>
<line x1="465" x2="465" y1="247.8" y2="250.4" stroke="#5a6ea4" stroke-width="0.7"/>
<line x1="470" x2="470" y1="247.8" y2="250.4" stroke="#5a6ea4" stroke-width="0.7"/>
<line x1="475" x2="475" y1="247.8" y2="250.4" stroke="#5a6ea4" stroke-width="0.7"/>
<line x1="481" x2="481" y1="247.8" y2="250.4" stroke="#5a6ea4" stroke-width="0.7"/>
<line x1="486" x2="486" y1="247.8" y2="250.4" stroke="#5a6ea4" stroke-width="0.7"/>
<line x1="491" x2="491" y1="247.8" y2="250.4" stroke="#5a6ea4" stroke-width="0.7"/>
<line x1="493.5" x2="493.5" y1="247.8" y2="250.4" stroke="#5a6ea4" stroke-width="0.7"/>
<path d="M345.2,242.3 V259.4 H356.5 V268.6 H362.7 V277.8 H366.7 V288.0 H372.8 V297.8 H375.9 V308.4 H384.1 V319.8 H435.8 V339.2 H498.8" fill="none" stroke="#b8222e" stroke-width="1"/>
<line x1="397.3" x2="397.3" y1="318.5" y2="321.1" stroke="#b8222e" stroke-width="0.7"/>
<line x1="401.2" x2="401.2" y1="318.5" y2="321.1" stroke="#b8222e" stroke-width="0.7"/>
<line x1="456.8" x2="456.8" y1="337.9" y2="340.5" stroke="#b8222e" stroke-width="0.7"/>
<line x1="490.3" x2="490.3" y1="337.9" y2="340.5" stroke="#b8222e" stroke-width="0.7"/>
<text x="456.9" y="256.8" font-size="7" font-style="italic" fill="#333">MetSig Low</text>
<text x="456.2" y="353.5" font-size="7" font-style="italic" fill="#333">MetSig High</text>
<text x="332.9" y="400.2" font-size="7.3" fill="#222"><tspan font-style="italic">P</tspan><tspan dx="1.5">=</tspan><tspan dx="1.2">.0001</tspan></text>
<rect x="326.1" y="234.8" width="173.4" height="170.6" fill="none" stroke="#111" stroke-width="1.4"/>
<line x1="323.1" x2="325.6" y1="242.3" y2="242.3" stroke="#222" stroke-width="1"/>
<text x="318.5" y="245.1" font-size="9.2" fill="#333" text-anchor="end" textLength="17.73" lengthAdjust="spacingAndGlyphs">1.00</text>
<line x1="323.1" x2="325.6" y1="281.2" y2="281.2" stroke="#222" stroke-width="1"/>
<text x="318.5" y="284" font-size="9.2" fill="#333" text-anchor="end" textLength="17.73" lengthAdjust="spacingAndGlyphs">0.75</text>
<line x1="323.1" x2="325.6" y1="320.1" y2="320.1" stroke="#222" stroke-width="1"/>
<text x="318.5" y="322.9" font-size="9.2" fill="#333" text-anchor="end" textLength="17.73" lengthAdjust="spacingAndGlyphs">0.50</text>
<line x1="323.1" x2="325.6" y1="359" y2="359" stroke="#222" stroke-width="1"/>
<text x="318.5" y="361.8" font-size="9.2" fill="#333" text-anchor="end" textLength="17.73" lengthAdjust="spacingAndGlyphs">0.25</text>
<line x1="323.1" x2="325.6" y1="397.9" y2="397.9" stroke="#222" stroke-width="1"/>
<text x="318.5" y="400.7" font-size="9.2" fill="#333" text-anchor="end" textLength="17.73" lengthAdjust="spacingAndGlyphs">0.00</text>
<line x1="333.6" x2="333.6" y1="405.9" y2="408.4" stroke="#222" stroke-width="1"/>
<text x="333.9" y="422.1" font-size="9.2" fill="#333" text-anchor="middle" textLength="5.12" lengthAdjust="spacingAndGlyphs">0</text>
<line x1="373.08" x2="373.08" y1="405.9" y2="408.4" stroke="#222" stroke-width="1"/>
<text x="373.38" y="422.1" font-size="9.2" fill="#333" text-anchor="middle" textLength="10.23" lengthAdjust="spacingAndGlyphs">25</text>
<line x1="412.55" x2="412.55" y1="405.9" y2="408.4" stroke="#222" stroke-width="1"/>
<text x="412.85" y="422.1" font-size="9.2" fill="#333" text-anchor="middle" textLength="10.23" lengthAdjust="spacingAndGlyphs">50</text>
<line x1="452.03" x2="452.03" y1="405.9" y2="408.4" stroke="#222" stroke-width="1"/>
<text x="452.33" y="422.1" font-size="9.2" fill="#333" text-anchor="middle" textLength="10.23" lengthAdjust="spacingAndGlyphs">75</text>
<line x1="491.5" x2="491.5" y1="405.9" y2="408.4" stroke="#222" stroke-width="1"/>
<text x="491.8" y="422.1" font-size="9.2" fill="#333" text-anchor="middle" textLength="15.35" lengthAdjust="spacingAndGlyphs">100</text>
<text x="389.2" y="439.8" font-size="9.6" fill="#222" stroke="#222" stroke-width="0.2" textLength="46.9" lengthAdjust="spacingAndGlyphs">Time (months)</text>
<text transform="translate(291.6,319.7) rotate(-90)" font-size="10.4" fill="#222" stroke="#222" stroke-width="0.2" text-anchor="middle" textLength="7.8" lengthAdjust="spacingAndGlyphs">OS</text>
<text x="46.3" y="459.7" font-size="9" fill="#222" text-anchor="end">High</text>
<text x="46" y="477.3" font-size="9" fill="#222" text-anchor="end">Low</text>
<text x="61.8" y="459.7" font-size="9" fill="#222" text-anchor="middle">18</text>
<text x="61.8" y="477.3" font-size="9" fill="#222" text-anchor="middle">30</text>
<text x="101.28" y="459.7" font-size="9" fill="#222" text-anchor="middle">6</text>
<text x="101.28" y="477.3" font-size="9" fill="#222" text-anchor="middle">22</text>
<text x="140.75" y="459.7" font-size="9" fill="#222" text-anchor="middle">2</text>
<text x="140.75" y="477.3" font-size="9" fill="#222" text-anchor="middle">19</text>
<text x="180.22" y="459.7" font-size="9" fill="#222" text-anchor="middle">2</text>
<text x="180.22" y="477.3" font-size="9" fill="#222" text-anchor="middle">8</text>
<text x="219.7" y="459.7" font-size="9" fill="#222" text-anchor="middle">1</text>
<text x="219.7" y="477.3" font-size="9" fill="#222" text-anchor="middle">1</text>
<text x="318.8" y="461.2" font-size="9" fill="#222" text-anchor="end">High</text>
<text x="318.5" y="478.8" font-size="9" fill="#222" text-anchor="end">Low</text>
<text x="334.3" y="461.2" font-size="9" fill="#222" text-anchor="middle">18</text>
<text x="334.3" y="478.8" font-size="9" fill="#222" text-anchor="middle">30</text>
<text x="373.78" y="461.2" font-size="9" fill="#222" text-anchor="middle">9</text>
<text x="373.78" y="478.8" font-size="9" fill="#222" text-anchor="middle">23</text>
<text x="413.25" y="461.2" font-size="9" fill="#222" text-anchor="middle">4</text>
<text x="413.25" y="478.8" font-size="9" fill="#222" text-anchor="middle">19</text>
<text x="452.73" y="461.2" font-size="9" fill="#222" text-anchor="middle">3</text>
<text x="452.73" y="478.8" font-size="9" fill="#222" text-anchor="middle">8</text>
<text x="492.2" y="461.2" font-size="9" fill="#222" text-anchor="middle">1</text>
<text x="492.2" y="478.8" font-size="9" fill="#222" text-anchor="middle">2</text>
<rect x="136.9" y="516" width="242.9" height="20.7" fill="#c6c5ca"/>
<rect x="136.9" y="559.7" width="242.9" height="20.7" fill="#c6c5ca"/>
<rect x="136.9" y="603.3" width="242.9" height="20.7" fill="#c6c5ca"/>
<rect x="136.9" y="647" width="242.9" height="20.8" fill="#c6c5ca"/>
<rect x="136.9" y="691.6" width="242.9" height="21.8" fill="#c6c5ca"/>
<line x1="136.9" x2="379.8" y1="714.1" y2="714.1" stroke="#111" stroke-width="1.4"/>
<line x1="245.9" x2="245.9" y1="714.5" y2="716.8" stroke="#222" stroke-width="0.8"/>
<text x="245.8" y="725.3" font-size="7" fill="#333" text-anchor="middle">0.1</text>
<line x1="267.08" x2="267.08" y1="714.5" y2="716.8" stroke="#222" stroke-width="0.8"/>
<text x="267.2" y="725.3" font-size="7" fill="#333" text-anchor="middle">0.5</text>
<line x1="276.2" x2="276.2" y1="714.5" y2="716.8" stroke="#222" stroke-width="0.8"/>
<text x="276.4" y="725.3" font-size="7" fill="#333" text-anchor="middle">1</text>
<line x1="297.38" x2="297.38" y1="714.5" y2="716.8" stroke="#222" stroke-width="0.8"/>
<text x="297.3" y="725.3" font-size="7" fill="#333" text-anchor="middle">5</text>
<line x1="306.5" x2="306.5" y1="714.5" y2="716.8" stroke="#222" stroke-width="0.8"/>
<text x="306.6" y="725.3" font-size="7" fill="#333" text-anchor="middle">10</text>
<line x1="327.68" x2="327.68" y1="714.5" y2="716.8" stroke="#222" stroke-width="0.8"/>
<text x="325.9" y="725.3" font-size="7" fill="#333" text-anchor="middle">50</text>
<line x1="336.8" x2="336.8" y1="714.5" y2="716.8" stroke="#222" stroke-width="0.8"/>
<text x="339.4" y="725.3" font-size="7" fill="#333" text-anchor="middle">100</text>
<line x1="357.98" x2="357.98" y1="714.5" y2="716.8" stroke="#222" stroke-width="0.8"/>
<text x="357.3" y="725.3" font-size="7" fill="#333" text-anchor="middle">500</text>
<text x="137.5" y="521.5" font-size="7.3" font-weight="bold" fill="#111">COO Nano</text>
<text x="137.5" y="586.4" font-size="7.3" font-weight="bold" fill="#111">DEXP mRNA</text>
<text x="137.5" y="629.8" font-size="7.3" font-weight="bold" fill="#111">IPI</text>
<text x="137.5" y="673.6" font-size="7.3" font-weight="bold" fill="#111">MetSig</text>
<text x="178.3" y="529.3" font-size="7.4" fill="#333" text-anchor="middle">GCB</text>
<text x="178.3" y="535.6" font-size="7.4" fill="#333" text-anchor="middle">(N = 33)</text>
<text x="217.7" y="529.3" font-size="7.4" font-style="italic" fill="#333" text-anchor="middle">ref</text>
<circle cx="276.2" cy="527" r="3.5" fill="#f0bf18" fill-opacity="0.88"/>
<text x="178.3" y="549.3" font-size="7.4" fill="#333" text-anchor="middle">ABC</text>
<text x="178.3" y="557.4" font-size="7.4" fill="#333" text-anchor="middle">(N = 7)</text>
<text x="217.7" y="549.3" font-size="7.4" fill="#333" text-anchor="middle">5.06</text>
<text x="217.7" y="557.4" font-size="7.4" fill="#333" text-anchor="middle">(1.06-24.2)</text>
<line x1="276.97" x2="318.13" y1="547.8" y2="547.8" stroke="#222" stroke-width="1.15"/>
<line x1="276.97" x2="276.97" y1="546.3" y2="549.3" stroke="#222" stroke-width="1.15"/>
<line x1="318.13" x2="318.13" y1="546.3" y2="549.3" stroke="#222" stroke-width="1.15"/>
<rect x="294.64" y="544.9" width="5.8" height="5.8" fill="#eab312"/>
<text x="354.6" y="550.2" font-size="7.4" font-style="italic" fill="#333">0.042*</text>
<text x="178.3" y="570.6" font-size="7.4" fill="#333" text-anchor="middle">UNC</text>
<text x="178.3" y="578.8" font-size="7.4" fill="#333" text-anchor="middle">(N = 8)</text>
<text x="217.7" y="570.6" font-size="7.4" fill="#333" text-anchor="middle">0.99</text>
<text x="217.7" y="578.8" font-size="7.4" fill="#333" text-anchor="middle">(0.23-4.3)</text>
<line x1="256.86" x2="295.39" y1="568.4" y2="568.4" stroke="#222" stroke-width="1.15"/>
<line x1="256.86" x2="256.86" y1="566.9" y2="569.9" stroke="#222" stroke-width="1.15"/>
<line x1="295.39" x2="295.39" y1="566.9" y2="569.9" stroke="#222" stroke-width="1.15"/>
<circle cx="276.07" cy="568.4" r="3.5" fill="#f0bf18" fill-opacity="0.88"/>
<text x="354.6" y="570.8" font-size="7.4" font-style="italic" fill="#333">0.985</text>
<text x="178.3" y="592.4" font-size="7.4" fill="#333" text-anchor="middle">no</text>
<text x="178.3" y="600.6" font-size="7.4" fill="#333" text-anchor="middle">(N = 38)</text>
<text x="217.7" y="592.4" font-size="7.4" font-style="italic" fill="#333" text-anchor="middle">ref</text>
<rect x="273.3" y="586.8" width="5.8" height="5.8" fill="#eab312"/>
<text x="178.3" y="613.6" font-size="7.4" fill="#333" text-anchor="middle">yes</text>
<text x="178.3" y="622.2" font-size="7.4" fill="#333" text-anchor="middle">(N = 10)</text>
<text x="217.7" y="613.6" font-size="7.4" fill="#333" text-anchor="middle">0.53</text>
<text x="217.7" y="622.2" font-size="7.4" fill="#333" text-anchor="middle">(0.10-2.6)</text>
<line x1="245.9" x2="288.77" y1="610.8" y2="610.8" stroke="#222" stroke-width="1.15"/>
<line x1="245.9" x2="245.9" y1="609.3" y2="612.3" stroke="#222" stroke-width="1.15"/>
<line x1="288.77" x2="288.77" y1="609.3" y2="612.3" stroke="#222" stroke-width="1.15"/>
<circle cx="267.85" cy="610.8" r="3.5" fill="#f0bf18" fill-opacity="0.88"/>
<text x="354.6" y="613.2" font-size="7.4" font-style="italic" fill="#333">0.437</text>
<text x="178.3" y="636.2" font-size="7.4" fill="#333" text-anchor="middle">Low</text>
<text x="178.3" y="644.3" font-size="7.4" fill="#333" text-anchor="middle">(N = 25)</text>
<text x="217.7" y="636.2" font-size="7.4" font-style="italic" fill="#333" text-anchor="middle">ref</text>
<rect x="273.3" y="630.3" width="5.8" height="5.8" fill="#eab312"/>
<text x="178.3" y="657.5" font-size="7.4" fill="#333" text-anchor="middle">High</text>
<text x="178.3" y="665.3" font-size="7.4" fill="#333" text-anchor="middle">(N = 23)</text>
<text x="217.7" y="657.5" font-size="7.4" fill="#333" text-anchor="middle">2.39</text>
<text x="217.7" y="665.3" font-size="7.4" fill="#333" text-anchor="middle">(0.45-12.6)</text>
<line x1="265.69" x2="309.54" y1="655.2" y2="655.2" stroke="#222" stroke-width="1.15"/>
<line x1="265.69" x2="265.69" y1="653.7" y2="656.7" stroke="#222" stroke-width="1.15"/>
<line x1="309.54" x2="309.54" y1="653.7" y2="656.7" stroke="#222" stroke-width="1.15"/>
<circle cx="287.67" cy="655.2" r="3.5" fill="#f0bf18" fill-opacity="0.88"/>
<text x="354.6" y="657.6" font-size="7.4" font-style="italic" fill="#333">0.306</text>
<text x="178.3" y="680.2" font-size="7.4" fill="#333" text-anchor="middle">Low</text>
<text x="178.3" y="688.3" font-size="7.4" fill="#333" text-anchor="middle">(N = 30)</text>
<text x="217.7" y="680.2" font-size="7.4" font-style="italic" fill="#333" text-anchor="middle">ref</text>
<rect x="273.3" y="674.2" width="5.8" height="5.8" fill="#eab312"/>
<text x="178.3" y="701.6" font-size="7.4" fill="#333" text-anchor="middle">High</text>
<text x="178.3" y="709.5" font-size="7.4" fill="#333" text-anchor="middle">(N = 18)</text>
<text x="217.7" y="701.6" font-size="7.4" fill="#333" text-anchor="middle">36.20</text>
<text x="217.7" y="709.5" font-size="7.4" fill="#333" text-anchor="middle">(3.87-338.4)</text>
<line x1="294.01" x2="352.84" y1="698.7" y2="698.7" stroke="#222" stroke-width="1.15"/>
<line x1="294.01" x2="294.01" y1="697.2" y2="700.2" stroke="#222" stroke-width="1.15"/>
<line x1="352.84" x2="352.84" y1="697.2" y2="700.2" stroke="#222" stroke-width="1.15"/>
<circle cx="323.43" cy="698.7" r="3.5" fill="#f0bf18" fill-opacity="0.88"/>
<text x="354.6" y="701.1" font-size="7.4" font-style="italic" fill="#333">0.002**</text>
<line x1="276.5" x2="276.5" y1="516" y2="713" stroke="#1b1e38" stroke-width="1" stroke-dasharray="1,1" shape-rendering="crispEdges"/>
<text x="137.7" y="726.6" font-size="7.1" font-style="italic" fill="#333">#Events: 14</text>
<text x="137.7" y="735.2" font-size="7.1" font-style="italic" fill="#333">Global P value (Log-Rank): 7.0642e-06</text>
<text x="137.7" y="743.6" font-size="7.1" font-style="italic" fill="#333">AIC:74.4; Concordance Index: 0.89</text>
</svg></body></html>
